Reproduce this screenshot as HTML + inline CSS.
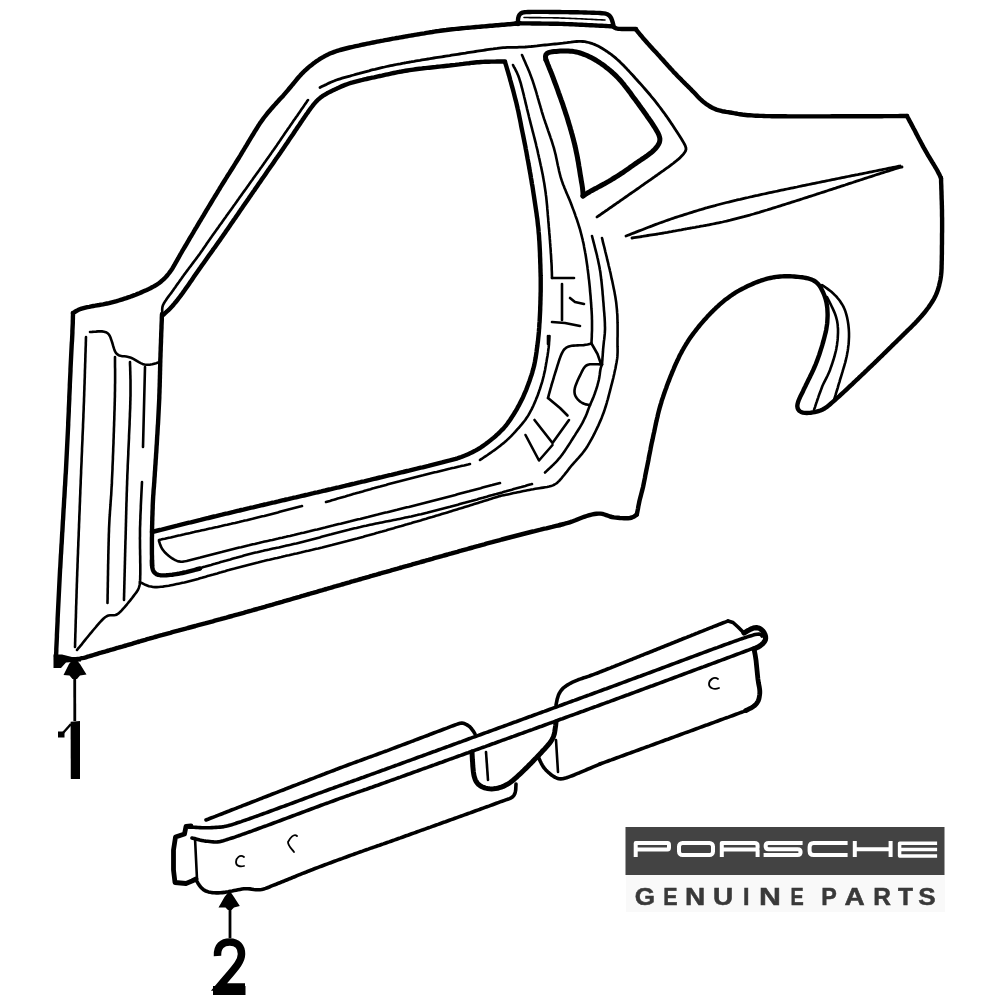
<!DOCTYPE html>
<html><head><meta charset="utf-8"><style>
html,body{margin:0;padding:0;background:#fff;}
body{width:1000px;height:1000px;overflow:hidden;position:relative;font-family:"Liberation Sans",sans-serif;}
svg{position:absolute;left:0;top:0;will-change:transform;}
</style></head><body>
<svg width="1000" height="1000" viewBox="0 0 1000 1000">
<g fill="none" stroke="#000" stroke-linecap="round" stroke-linejoin="round">
<path d="M56.0 657.0 L56.1 655.0 L56.2 653.0 L56.3 651.0 L56.3 649.0 L56.4 647.0 L56.5 645.0 L56.6 643.0 L56.7 641.0 L56.8 639.0 L56.9 637.0 L56.9 635.0 L57.0 633.0 L57.1 631.0 L57.2 629.0 L57.3 627.0 L57.4 625.0 L57.5 623.0 L57.6 621.0 L57.6 619.0 L57.7 617.0 L57.8 615.0 L57.9 613.0 L58.0 611.0 L58.1 609.0 L58.2 607.0 L58.3 605.0 L58.4 603.0 L58.5 601.0 L58.6 599.0 L58.7 597.0 L58.8 595.0 L58.9 593.0 L59.0 591.0 L59.1 589.0 L59.2 587.0 L59.3 585.0 L59.4 583.0 L59.5 581.0 L59.6 579.0 L59.7 577.0 L59.8 575.0 L59.9 573.0 L60.0 571.0 L60.1 569.0 L60.3 567.0 L60.4 565.0 L60.5 563.0 L60.6 561.0 L60.7 559.0 L60.8 557.0 L60.9 555.0 L61.1 553.0 L61.2 551.0 L61.3 549.0 L61.4 547.0 L61.5 545.0 L61.7 543.0 L61.8 541.0 L61.9 539.0 L62.0 537.0 L62.1 535.0 L62.2 533.0 L62.4 531.0 L62.5 529.0 L62.6 527.0 L62.7 525.0 L62.8 523.0 L62.9 521.0 L63.1 519.0 L63.2 517.0 L63.3 515.0 L63.4 513.0 L63.5 511.0 L63.6 509.0 L63.8 507.0 L63.9 505.0 L64.0 503.0 L64.1 501.0 L64.2 499.0 L64.4 497.0 L64.5 495.0 L64.6 493.0 L64.7 491.0 L64.8 489.0 L64.9 487.0 L65.1 485.0 L65.2 483.0 L65.3 481.0 L65.4 479.0 L65.5 477.0 L65.6 475.0 L65.8 473.0 L65.9 471.0 L66.0 469.0 L66.1 467.0 L66.2 465.0 L66.3 463.0 L66.4 461.0 L66.5 459.0 L66.6 457.0 L66.7 455.0 L66.8 453.0 L66.9 451.0 L67.0 449.0 L67.1 447.0 L67.2 445.0 L67.3 443.0 L67.4 441.0 L67.5 439.0 L67.6 437.0 L67.7 435.0 L67.8 433.0 L67.9 431.0 L68.0 429.0 L68.1 427.0 L68.2 425.0 L68.2 423.0 L68.3 421.0 L68.4 419.0 L68.5 417.0 L68.6 415.0 L68.7 413.0 L68.8 411.0 L68.8 409.0 L68.9 407.0 L69.0 405.0 L69.1 403.0 L69.2 401.0 L69.3 399.0 L69.3 397.0 L69.4 395.0 L69.5 393.0 L69.6 391.0 L69.7 389.0 L69.8 387.0 L69.8 385.0 L69.9 383.0 L70.0 381.0 L70.1 379.0 L70.2 377.0 L70.3 375.0 L70.4 373.0 L70.5 371.0 L70.5 369.0 L70.6 367.0 L70.7 365.0 L70.8 363.0 L70.9 361.0 L71.0 359.0 L71.1 357.0 L71.2 355.0 L71.3 353.0 L71.4 351.0 L71.5 349.0 L71.6 347.0 L71.7 345.0 L71.8 343.0 L72.0 341.0 L72.1 339.0 L72.2 337.0 L72.3 335.0 L72.4 333.0 L72.4 331.0 L72.5 329.0 L72.6 327.0 L72.7 325.0 L72.8 323.0 L72.8 321.0 L72.9 319.0 L72.9 317.0 L73.0 315.0 L73.0 313.0 L73.0 313.0" stroke-width="4.4"/>
<path d="M73.0 313.0 L74.6 312.0 L76.3 311.0 L78.0 310.1 L79.8 309.3 L81.6 308.6 L83.5 308.1 L85.4 307.6 L87.4 307.1 L89.3 306.8 L91.3 306.4 L93.3 306.0 L95.2 305.7 L97.2 305.3 L99.2 305.0 L101.2 304.6 L103.1 304.3 L105.1 303.9 L107.0 303.5 L109.0 303.1 L110.9 302.6 L112.9 302.1 L114.8 301.6 L116.7 301.1 L118.7 300.5 L120.6 299.9 L122.5 299.3 L124.4 298.7 L126.3 298.1 L128.2 297.4 L130.1 296.8 L132.0 296.1 L133.8 295.4 L135.7 294.7 L137.6 293.9 L139.4 293.2 L141.3 292.4 L143.1 291.6 L144.9 290.8 L146.8 290.0 L148.6 289.1 L150.4 288.2 L152.1 287.3 L153.9 286.4 L155.6 285.3 L157.3 284.3 L158.9 283.2 L160.5 282.0 L162.0 280.7 L163.5 279.4 L164.9 278.0 L166.3 276.5 L167.6 275.0 L168.8 273.5 L170.0 271.9 L171.2 270.3 L172.3 268.6 L173.3 266.9 L174.3 265.2 L175.3 263.4 L176.3 261.7 L177.3 259.9 L178.3 258.2 L179.2 256.5 L180.2 254.7 L181.2 253.0 L182.2 251.2 L183.2 249.5 L184.2 247.8 L185.3 246.0 L186.3 244.3 L187.3 242.6 L188.3 240.9 L189.3 239.1 L190.3 237.4 L191.4 235.7 L192.4 234.0 L193.4 232.3 L194.4 230.5 L195.4 228.8 L196.5 227.1 L197.5 225.4 L198.5 223.7 L199.5 221.9 L200.6 220.2 L201.6 218.5 L202.6 216.8 L203.7 215.1 L204.7 213.3 L205.7 211.6 L206.7 209.9 L207.8 208.2 L208.8 206.5 L209.8 204.8 L210.9 203.0 L211.9 201.3 L212.9 199.6 L214.0 197.9 L215.0 196.2 L216.1 194.5 L217.1 192.8 L218.1 191.1 L219.2 189.4 L220.2 187.6 L221.3 185.9 L222.3 184.2 L223.4 182.5 L224.5 180.8 L225.5 179.1 L226.6 177.4 L227.6 175.7 L228.7 174.1 L229.8 172.4 L230.8 170.7 L231.9 169.0 L233.0 167.3 L234.0 165.6 L235.1 163.9 L236.1 162.2 L237.2 160.5 L238.3 158.8 L239.3 157.1 L240.4 155.4 L241.4 153.7 L242.4 151.9 L243.5 150.2 L244.5 148.5 L245.5 146.8 L246.6 145.1 L247.6 143.4 L248.6 141.7 L249.7 139.9 L250.7 138.2 L251.7 136.5 L252.8 134.8 L253.8 133.1 L254.8 131.4 L255.9 129.7 L257.0 128.0 L258.0 126.3 L259.1 124.6 L260.2 122.9 L261.4 121.3 L262.5 119.7 L263.7 118.0 L264.9 116.5 L266.2 114.9 L267.4 113.3 L268.7 111.8 L270.0 110.3 L271.3 108.7 L272.6 107.2 L273.9 105.7 L275.3 104.3 L276.6 102.8 L278.0 101.3 L279.3 99.8 L280.7 98.3 L282.0 96.9 L283.4 95.4 L284.7 93.9 L286.0 92.4 L287.3 90.9 L288.6 89.3 L289.9 87.8 L291.2 86.3 L292.4 84.7 L293.7 83.2 L295.0 81.6 L296.2 80.1 L297.5 78.5 L298.8 77.0 L300.2 75.5 L301.5 74.0 L302.9 72.6 L304.3 71.2 L305.8 69.8 L307.3 68.5 L308.8 67.2 L310.3 65.9 L311.9 64.7 L313.5 63.4 L315.1 62.3 L316.7 61.1 L318.4 60.0 L320.0 58.9 L321.7 57.9 L323.5 56.9 L325.2 55.9 L327.0 55.0 L328.8 54.1 L330.6 53.3 L332.5 52.6 L334.3 51.9 L336.2 51.2 L338.1 50.6 L340.0 50.0 L342.0 49.5 L343.9 49.0 L345.8 48.5 L347.8 48.0 L349.7 47.5 L351.7 47.1 L353.6 46.7 L355.6 46.2 L357.5 45.8 L359.5 45.4 L361.4 44.9 L363.4 44.5 L365.4 44.1 L367.3 43.7 L369.3 43.3 L371.2 42.9 L373.2 42.5 L375.2 42.1 L377.1 41.7 L379.1 41.3 L381.1 40.9 L383.0 40.6 L385.0 40.2 L387.0 39.8 L388.9 39.5 L390.9 39.1 L392.9 38.7 L394.8 38.4 L396.8 38.0 L398.8 37.7 L400.8 37.3 L402.7 37.0 L404.7 36.6 L406.7 36.3 L408.6 35.9 L410.6 35.6 L412.6 35.3 L414.6 34.9 L416.5 34.6 L418.5 34.3 L420.5 33.9 L422.5 33.6 L424.4 33.3 L426.4 32.9 L428.4 32.6 L430.4 32.3 L432.3 32.0 L434.3 31.6 L436.3 31.3 L438.3 31.1 L440.3 30.8 L442.2 30.5 L444.2 30.2 L446.2 30.0 L448.2 29.7 L450.2 29.5 L452.2 29.3 L454.2 29.1 L456.2 28.9 L458.2 28.7 L460.2 28.5 L462.1 28.3 L464.1 28.1 L466.1 27.9 L468.1 27.7 L470.1 27.6 L472.1 27.4 L474.1 27.2 L476.1 27.0 L478.1 26.9 L480.1 26.7 L482.1 26.5 L484.1 26.4 L486.1 26.2 L488.1 26.0 L490.1 25.8 L492.1 25.7 L494.1 25.5 L496.1 25.3 L498.0 25.2 L500.0 25.0 L502.0 24.8 L504.0 24.7 L506.0 24.5 L508.0 24.3 L510.0 24.2 L512.0 24.0 L514.0 23.8 L516.0 23.7 L518.0 23.5 L518.0 23.5" stroke-width="4.4"/>
<path d="M518.0 24.0 L518.0 22.0 L518.0 20.0 L518.2 18.1 L518.7 16.3 L519.5 14.7 L520.7 13.5 L522.2 12.7 L524.0 12.3 L525.9 12.1 L527.9 12.0 L529.9 12.0 L531.9 11.9 L533.9 11.9 L535.9 11.9 L537.9 11.9 L539.9 11.9 L541.9 11.9 L543.9 11.9 L545.9 11.9 L547.9 11.9 L549.9 12.0 L551.9 12.0 L553.9 12.0 L555.9 12.0 L557.9 12.0 L559.9 12.0 L561.9 12.1 L563.9 12.1 L565.9 12.1 L567.9 12.1 L569.9 12.2 L571.9 12.2 L573.9 12.2 L575.9 12.3 L577.9 12.3 L579.9 12.4 L581.9 12.4 L583.9 12.5 L585.9 12.5 L587.9 12.6 L589.9 12.6 L591.9 12.7 L593.9 12.8 L595.9 12.9 L597.9 12.9 L599.9 13.0 L601.9 13.2 L603.9 13.4 L605.8 13.7 L607.5 14.3 L609.1 15.3 L610.3 16.7 L611.3 18.4 L612.0 20.2 L612.6 22.1 L613.1 24.0 L613.5 26.0 L613.5 26.0" stroke-width="4.4"/>
<path d="M516.0 23.3 L518.0 23.3 L520.0 23.3 L522.0 23.4 L524.0 23.4 L526.0 23.4 L528.0 23.4 L530.0 23.4 L532.0 23.5 L534.0 23.5 L536.0 23.5 L538.0 23.5 L540.0 23.5 L542.0 23.6 L544.0 23.6 L546.0 23.6 L548.0 23.6 L550.0 23.7 L552.0 23.7 L554.0 23.8 L556.0 23.8 L558.0 23.8 L560.0 23.9 L562.0 23.9 L564.0 24.0 L566.0 24.1 L568.0 24.1 L570.0 24.2 L572.0 24.3 L574.0 24.4 L576.0 24.5 L578.0 24.6 L580.0 24.7 L582.0 24.8 L584.0 24.9 L586.0 25.0 L588.0 25.1 L590.0 25.2 L592.0 25.3 L594.0 25.4 L596.0 25.5 L598.0 25.6 L600.0 25.7 L602.0 25.8 L604.0 25.9 L606.0 26.0 L608.0 26.1 L610.0 26.2 L612.0 26.3 L613.0 26.4" stroke-width="4.4"/>
<path d="M524.0 17.5 L526.0 17.5 L528.0 17.5 L530.0 17.6 L532.0 17.6 L534.0 17.6 L536.0 17.6 L538.0 17.6 L540.0 17.6 L542.0 17.7 L544.0 17.7 L546.0 17.7 L548.0 17.7 L550.0 17.8 L552.0 17.8 L554.0 17.9 L556.0 17.9 L558.0 17.9 L560.0 18.0 L562.0 18.1 L564.0 18.1 L566.0 18.2 L568.0 18.3 L570.0 18.4 L572.0 18.5 L574.0 18.5 L576.0 18.6 L578.0 18.7 L580.0 18.8 L582.0 18.9 L584.0 19.0 L586.0 19.1 L588.0 19.2 L590.0 19.3 L592.0 19.4 L594.0 19.5 L596.0 19.6 L598.0 19.7 L600.0 19.8 L602.0 19.9 L604.0 20.0 L605.0 20.0" stroke-width="1.6"/>
<path d="M613.0 26.4 L614.4 27.5 L616.0 28.3 L617.8 28.7 L619.8 28.9 L621.8 29.0 L623.8 29.0 L625.8 29.0 L627.9 29.0 L629.9 29.0 L631.9 29.0 L634.0 29.0 L636.0 29.0 L636.0 29.0" stroke-width="4.4"/>
<path d="M636.0 29.5 L637.3 31.1 L638.5 32.6 L639.8 34.2 L641.1 35.7 L642.3 37.2 L643.6 38.8 L645.0 40.3 L646.3 41.8 L647.6 43.3 L649.0 44.7 L650.3 46.2 L651.7 47.7 L653.0 49.2 L654.4 50.7 L655.7 52.1 L657.1 53.6 L658.4 55.1 L659.8 56.6 L661.1 58.1 L662.5 59.5 L663.8 61.0 L665.1 62.5 L666.5 64.0 L667.8 65.5 L669.2 67.0 L670.5 68.5 L671.9 69.9 L673.2 71.4 L674.6 72.9 L676.0 74.3 L677.3 75.8 L678.7 77.2 L680.2 78.6 L681.6 80.1 L683.0 81.5 L684.4 82.9 L685.8 84.3 L687.3 85.7 L688.7 87.1 L690.1 88.5 L691.5 89.9 L692.9 91.4 L694.3 92.8 L695.7 94.3 L697.0 95.7 L698.4 97.2 L699.8 98.6 L701.3 100.0 L702.8 101.3 L704.3 102.6 L705.9 103.8 L707.6 104.9 L709.2 106.0 L710.9 107.0 L712.7 108.0 L714.5 108.8 L716.4 109.6 L718.2 110.2 L720.2 110.7 L722.1 111.2 L724.1 111.5 L726.1 111.9 L728.0 112.2 L730.0 112.5 L732.0 112.8 L734.0 113.2 L735.9 113.5 L737.9 113.9 L739.9 114.2 L741.9 114.5 L743.8 114.8 L745.8 115.0 L747.8 115.2 L749.8 115.3 L751.8 115.4 L753.8 115.6 L755.8 115.7 L757.8 115.8 L759.8 115.9 L761.8 115.9 L763.8 116.0 L765.8 116.1 L767.8 116.1 L769.8 116.1 L771.8 116.2 L773.8 116.2 L775.8 116.2 L777.8 116.3 L779.8 116.3 L781.8 116.3 L783.8 116.3 L785.8 116.3 L787.9 116.4 L789.9 116.4 L791.9 116.4 L793.9 116.4 L795.9 116.4 L797.9 116.4 L799.9 116.4 L801.9 116.4 L803.9 116.4 L805.9 116.4 L807.9 116.4 L809.9 116.4 L811.9 116.4 L813.9 116.4 L815.9 116.4 L817.9 116.4 L819.9 116.4 L821.9 116.4 L823.9 116.4 L825.9 116.4 L827.9 116.4 L829.9 116.4 L831.9 116.3 L833.9 116.3 L835.9 116.3 L837.9 116.3 L839.9 116.3 L841.9 116.3 L843.9 116.3 L845.9 116.3 L847.9 116.3 L849.9 116.3 L851.9 116.3 L853.9 116.3 L855.9 116.3 L857.9 116.3 L859.9 116.3 L861.9 116.3 L863.9 116.3 L865.9 116.2 L868.0 116.2 L870.0 116.2 L872.0 116.2 L874.0 116.2 L876.0 116.2 L878.0 116.2 L880.0 116.2 L882.0 116.2 L884.0 116.1 L886.0 116.1 L888.0 116.1 L890.0 116.1 L892.0 116.1 L894.0 116.1 L896.0 116.1 L898.0 116.1 L900.0 116.0 L902.0 116.0 L904.0 116.0 L906.0 116.0 L907.0 116.0" stroke-width="4.4"/>
<path d="M907.0 116.0 L907.9 117.8 L908.9 119.6 L909.8 121.4 L910.8 123.1 L911.7 124.9 L912.7 126.7 L913.6 128.5 L914.6 130.3 L915.5 132.1 L916.4 133.9 L917.4 135.7 L918.3 137.5 L919.2 139.2 L920.2 141.0 L921.1 142.8 L922.1 144.6 L923.0 146.4 L924.0 148.2 L925.0 149.9 L926.0 151.7 L927.0 153.4 L928.0 155.2 L929.1 156.9 L930.1 158.6 L931.2 160.4 L932.2 162.1 L933.3 163.8 L934.3 165.5 L935.4 167.3 L936.4 169.0 L937.4 170.8 L938.3 172.6 L939.3 174.4 L940.1 176.2 L941.0 178.0 L941.0 178.0" stroke-width="4.4"/>
<path d="M941.0 178.0 L941.1 180.0 L941.1 182.0 L941.2 184.0 L941.3 186.0 L941.3 188.0 L941.4 190.0 L941.5 192.0 L941.5 194.0 L941.6 196.0 L941.6 198.0 L941.7 200.0 L941.8 202.0 L941.8 204.0 L941.9 206.0 L941.9 208.0 L942.0 210.0 L942.0 212.0 L942.0 214.0 L942.0 216.0 L942.1 218.0 L942.1 220.0 L942.1 222.0 L942.1 224.0 L942.1 226.0 L942.1 228.0 L942.1 230.0 L942.1 232.0 L942.0 234.0 L942.0 236.0 L942.0 238.0 L942.0 240.0 L942.0 242.0 L942.0 244.0 L941.9 246.0 L941.9 248.0 L941.9 250.0 L941.9 252.0 L941.9 254.0 L941.8 256.0 L941.8 258.0 L941.8 260.0 L941.7 262.0 L941.7 264.0 L941.6 266.0 L941.6 268.0 L941.5 270.0 L941.4 272.0 L941.2 274.0 L941.0 276.0 L940.7 278.0 L940.4 279.9 L940.0 281.9 L939.5 283.8 L939.1 285.8 L938.5 287.7 L938.0 289.6 L937.3 291.5 L936.6 293.4 L935.8 295.2 L934.9 297.0 L934.0 298.8 L933.0 300.5 L931.9 302.2 L930.8 303.9 L929.7 305.5 L928.6 307.2 L927.4 308.8 L926.2 310.4 L925.0 312.0 L923.7 313.5 L922.4 315.0 L921.1 316.6 L919.8 318.0 L918.4 319.5 L917.1 321.0 L915.7 322.4 L914.3 323.9 L912.9 325.3 L911.5 326.7 L910.1 328.1 L908.6 329.5 L907.2 330.9 L905.8 332.3 L904.3 333.7 L902.9 335.1 L901.5 336.5 L900.1 337.9 L898.6 339.3 L897.2 340.7 L895.8 342.1 L894.3 343.5 L892.9 344.9 L891.5 346.3 L890.1 347.7 L888.6 349.1 L887.2 350.5 L885.8 351.9 L884.3 353.3 L882.9 354.7 L881.5 356.1 L880.0 357.5 L878.6 358.9 L877.2 360.3 L875.7 361.7 L874.3 363.1 L872.8 364.5 L871.4 365.9 L870.0 367.2 L868.5 368.6 L867.1 370.0 L865.6 371.4 L864.2 372.8 L862.7 374.2 L861.3 375.5 L859.8 376.9 L858.4 378.3 L856.9 379.7 L855.5 381.0 L854.0 382.4 L852.6 383.8 L851.1 385.2 L849.6 386.5 L848.2 387.9 L846.7 389.3 L845.3 390.6 L843.8 392.0 L842.3 393.4 L840.9 394.7 L839.4 396.1 L837.9 397.4 L836.4 398.7 L834.9 400.1 L833.4 401.4 L831.9 402.7 L830.4 404.0 L828.9 405.3 L827.3 406.6 L825.7 407.7 L824.0 408.8 L822.2 409.7 L820.4 410.5 L818.5 411.1 L816.6 411.7 L814.7 412.1 L812.7 412.4 L810.7 412.7 L808.7 412.9 L806.8 413.0 L804.8 412.9 L802.9 412.6 L801.1 412.0 L799.5 411.0 L798.3 409.6 L797.6 408.0 L797.3 406.1 L797.5 404.3 L798.0 402.4 L798.6 400.5 L799.4 398.6 L800.2 396.8 L801.1 395.0 L802.0 393.2 L802.9 391.4 L803.7 389.6 L804.6 387.8 L805.5 386.0 L806.3 384.2 L807.2 382.4 L808.1 380.6 L809.0 378.8 L809.9 377.0 L810.7 375.2 L811.6 373.4 L812.5 371.6 L813.3 369.8 L814.1 368.0 L814.9 366.1 L815.7 364.3 L816.4 362.4 L817.1 360.6 L817.8 358.7 L818.5 356.8 L819.2 354.9 L819.8 353.0 L820.4 351.1 L821.0 349.2 L821.6 347.3 L822.2 345.4 L822.7 343.5 L823.3 341.5 L823.8 339.6 L824.3 337.7 L824.8 335.7 L825.3 333.8 L825.8 331.9 L826.2 329.9 L826.5 327.9 L826.8 326.0 L827.1 324.0 L827.3 322.0 L827.4 320.0 L827.5 318.0 L827.6 316.0 L827.6 314.0 L827.5 312.0 L827.4 310.0 L827.3 308.0 L827.0 306.0 L826.7 304.0 L826.4 302.1 L825.9 300.1 L825.3 298.2 L824.7 296.3 L824.0 294.5 L823.2 292.6 L822.3 290.8 L821.4 289.0 L820.5 287.3 L819.4 285.6 L818.2 284.1 L816.8 282.7 L815.3 281.5 L813.6 280.5 L811.8 279.6 L809.9 279.0 L808.0 278.4 L806.0 278.0 L804.1 277.6 L802.1 277.3 L800.1 277.1 L798.1 276.9 L796.1 276.7 L794.1 276.5 L792.1 276.4 L790.1 276.3 L788.1 276.3 L786.1 276.3 L784.1 276.3 L782.1 276.4 L780.2 276.5 L778.2 276.7 L776.2 276.9 L774.2 277.2 L772.2 277.6 L770.3 278.0 L768.3 278.4 L766.4 278.9 L764.5 279.5 L762.6 280.1 L760.7 280.7 L758.8 281.4 L756.9 282.1 L755.1 282.8 L753.2 283.6 L751.4 284.4 L749.6 285.2 L747.7 286.1 L745.9 287.0 L744.2 287.9 L742.4 288.8 L740.6 289.7 L738.9 290.7 L737.1 291.7 L735.4 292.7 L733.7 293.8 L732.1 294.9 L730.4 296.0 L728.8 297.2 L727.2 298.4 L725.6 299.6 L724.0 300.8 L722.5 302.1 L721.0 303.4 L719.5 304.7 L718.0 306.1 L716.5 307.4 L715.1 308.8 L713.6 310.2 L712.2 311.6 L710.8 313.0 L709.4 314.5 L708.0 315.9 L706.7 317.4 L705.3 318.9 L704.0 320.3 L702.7 321.9 L701.4 323.4 L700.1 324.9 L698.8 326.5 L697.6 328.0 L696.3 329.6 L695.1 331.2 L693.9 332.8 L692.7 334.4 L691.5 336.0 L690.4 337.6 L689.2 339.3 L688.1 340.9 L687.1 342.6 L686.0 344.3 L685.0 346.0 L683.9 347.8 L683.0 349.5 L682.0 351.2 L681.1 353.0 L680.1 354.8 L679.2 356.6 L678.4 358.4 L677.5 360.2 L676.7 362.0 L675.8 363.8 L675.0 365.7 L674.2 367.5 L673.5 369.3 L672.7 371.2 L671.9 373.0 L671.2 374.9 L670.4 376.7 L669.7 378.6 L669.0 380.5 L668.2 382.3 L667.5 384.2 L666.8 386.1 L666.2 388.0 L665.5 389.8 L664.8 391.7 L664.2 393.6 L663.5 395.5 L662.9 397.4 L662.2 399.3 L661.6 401.2 L661.1 403.1 L660.5 405.0 L659.9 407.0 L659.4 408.9 L658.9 410.8 L658.4 412.8 L657.9 414.7 L657.5 416.7 L657.0 418.6 L656.6 420.6 L656.1 422.5 L655.7 424.5 L655.3 426.4 L654.9 428.4 L654.5 430.3 L654.1 432.3 L653.6 434.3 L653.2 436.2 L652.8 438.2 L652.4 440.1 L651.9 442.1 L651.5 444.0 L651.1 446.0 L650.7 448.0 L650.4 449.9 L650.0 451.9 L649.6 453.8 L649.2 455.8 L648.8 457.8 L648.5 459.7 L648.1 461.7 L647.7 463.7 L647.3 465.6 L646.9 467.6 L646.5 469.5 L646.1 471.5 L645.7 473.5 L645.3 475.4 L645.0 477.4 L644.6 479.4 L644.2 481.3 L643.8 483.3 L643.4 485.2 L643.0 487.2 L642.5 489.1 L642.0 491.1 L641.5 493.0 L641.0 495.0 L640.5 496.9 L640.0 498.8 L639.5 500.8 L639.1 502.7 L638.7 504.7 L638.3 506.6 L638.0 508.6 L637.6 510.6 L637.2 512.5 L636.8 514.5 L636.8 514.5" stroke-width="4.4"/>
<path d="M636.8 514.5 L635.3 515.7 L633.6 516.8 L631.9 517.5 L630.0 518.0 L628.0 518.2 L626.0 518.2 L624.0 518.2 L621.9 518.1 L619.9 518.0 L617.9 517.8 L615.9 517.6 L613.9 517.4 L612.0 517.0 L610.0 516.5 L608.1 515.8 L606.2 515.1 L604.4 514.5 L602.4 513.9 L600.5 513.6 L598.5 513.6 L596.5 513.7 L594.5 514.0 L592.5 514.4 L590.6 514.8 L588.6 515.4 L586.7 516.0 L584.8 516.6 L582.9 517.3 L581.0 518.0 L579.1 518.7 L577.3 519.5 L575.4 520.3 L573.5 521.0 L571.6 521.7 L569.7 522.3 L567.8 522.9 L565.8 523.4 L563.9 524.0 L561.9 524.5 L560.0 525.0 L560.0 525.0" stroke-width="4.4"/>
<path d="M560.0 525.0 L558.1 525.5 L556.1 525.9 L554.2 526.4 L552.2 526.9 L550.3 527.3 L548.3 527.8 L546.4 528.3 L544.4 528.7 L542.5 529.2 L540.5 529.7 L538.6 530.1 L536.6 530.6 L534.7 531.1 L532.8 531.5 L530.8 532.0 L528.9 532.5 L526.9 533.0 L525.0 533.5 L523.0 534.0 L521.1 534.5 L519.2 535.0 L517.2 535.5 L515.3 536.0 L513.4 536.5 L511.4 537.0 L509.5 537.5 L507.5 538.0 L505.6 538.5 L503.7 539.0 L501.7 539.5 L499.8 540.1 L497.9 540.6 L495.9 541.1 L494.0 541.6 L492.1 542.2 L490.2 542.7 L488.2 543.2 L486.3 543.7 L484.4 544.3 L482.4 544.8 L480.5 545.3 L478.6 545.9 L476.6 546.4 L474.7 546.9 L472.8 547.5 L470.9 548.0 L468.9 548.5 L467.0 549.1 L465.1 549.6 L463.1 550.1 L461.2 550.7 L459.3 551.2 L457.4 551.8 L455.4 552.3 L453.5 552.8 L451.6 553.4 L449.7 553.9 L447.7 554.5 L445.8 555.0 L443.9 555.5 L441.9 556.1 L440.0 556.6 L438.1 557.2 L436.2 557.7 L434.2 558.2 L432.3 558.8 L430.4 559.3 L428.5 559.9 L426.5 560.4 L424.6 561.0 L422.7 561.5 L420.8 562.0 L418.8 562.6 L416.9 563.1 L415.0 563.7 L413.0 564.2 L411.1 564.8 L409.2 565.3 L407.3 565.9 L405.3 566.4 L403.4 566.9 L401.5 567.5 L399.6 568.0 L397.6 568.6 L395.7 569.1 L393.8 569.7 L391.9 570.2 L389.9 570.8 L388.0 571.3 L386.1 571.9 L384.2 572.4 L382.2 572.9 L380.3 573.5 L378.4 574.0 L376.5 574.6 L374.5 575.1 L372.6 575.7 L370.7 576.2 L368.8 576.8 L366.8 577.3 L364.9 577.9 L363.0 578.4 L361.1 579.0 L359.1 579.5 L357.2 580.1 L355.3 580.6 L353.4 581.2 L351.4 581.7 L349.5 582.3 L347.6 582.8 L345.7 583.4 L343.8 584.0 L341.8 584.5 L339.9 585.1 L338.0 585.6 L336.1 586.2 L334.1 586.7 L332.2 587.3 L330.3 587.9 L328.4 588.4 L326.5 589.0 L324.5 589.5 L322.6 590.1 L320.7 590.6 L318.8 591.2 L316.8 591.8 L314.9 592.3 L313.0 592.9 L311.1 593.4 L309.2 594.0 L307.2 594.5 L305.3 595.1 L303.4 595.7 L301.5 596.2 L299.5 596.8 L297.6 597.3 L295.7 597.9 L293.8 598.4 L291.9 599.0 L289.9 599.6 L288.0 600.1 L286.1 600.7 L284.2 601.2 L282.2 601.8 L280.3 602.3 L278.4 602.9 L276.5 603.4 L274.5 604.0 L272.6 604.6 L270.7 605.1 L268.8 605.7 L266.8 606.2 L264.9 606.8 L263.0 607.3 L261.1 607.9 L259.2 608.4 L257.2 609.0 L255.3 609.5 L253.4 610.0 L251.4 610.6 L249.5 611.1 L247.6 611.7 L245.7 612.2 L243.7 612.8 L241.8 613.3 L239.9 613.8 L238.0 614.4 L236.0 614.9 L234.1 615.4 L232.2 616.0 L230.2 616.5 L228.3 617.0 L226.4 617.6 L224.5 618.1 L222.5 618.6 L220.6 619.2 L218.7 619.7 L216.7 620.2 L214.8 620.7 L212.9 621.3 L210.9 621.8 L209.0 622.3 L207.1 622.8 L205.1 623.4 L203.2 623.9 L201.3 624.4 L199.3 624.9 L197.4 625.4 L195.5 626.0 L193.5 626.5 L191.6 627.0 L189.7 627.5 L187.8 628.0 L185.8 628.6 L183.9 629.1 L182.0 629.6 L180.0 630.1 L178.1 630.7 L176.2 631.2 L174.2 631.7 L172.3 632.2 L170.4 632.8 L168.4 633.3 L166.5 633.8 L164.6 634.3 L162.6 634.9 L160.7 635.4 L158.8 635.9 L156.9 636.5 L154.9 637.0 L153.0 637.6 L151.1 638.1 L149.2 638.7 L147.2 639.2 L145.3 639.8 L143.4 640.3 L141.5 640.9 L139.5 641.5 L137.6 642.0 L135.7 642.6 L133.8 643.2 L131.9 643.8 L130.0 644.3 L128.0 644.9 L126.1 645.5 L124.2 646.0 L122.3 646.6 L120.4 647.1 L118.4 647.7 L116.5 648.2 L114.6 648.8 L112.7 649.4 L110.7 649.9 L108.8 650.5 L106.9 651.0 L105.0 651.6 L103.0 652.1 L101.1 652.7 L99.2 653.2 L97.3 653.8 L95.4 654.4 L93.5 655.0 L91.5 655.6 L89.6 656.2 L87.7 656.7 L85.8 657.3 L83.9 657.8 L81.9 658.2 L79.9 658.6 L78.0 658.9 L76.0 659.2 L74.0 659.3 L72.0 659.4 L70.0 659.5 L68.0 659.5 L66.0 659.4 L64.0 659.4 L62.0 659.3 L60.0 659.2 L58.0 659.1 L56.0 659.0 L56.0 659.0" stroke-width="4.4"/>
<path d="M162.0 314.0 L161.9 316.0 L161.8 318.0 L161.8 320.0 L161.7 322.0 L161.6 324.0 L161.5 326.0 L161.5 328.0 L161.4 330.0 L161.3 332.0 L161.2 334.0 L161.2 336.0 L161.1 338.0 L161.0 340.0 L161.0 342.0 L160.9 344.0 L160.8 346.0 L160.7 348.0 L160.7 350.0 L160.6 352.0 L160.5 354.0 L160.5 356.0 L160.4 358.0 L160.3 360.0 L160.3 362.0 L160.2 364.0 L160.2 366.0 L160.1 368.0 L160.1 370.0 L160.0 372.0 L160.0 374.0 L159.9 376.0 L159.9 378.0 L159.8 380.0 L159.8 382.0 L159.7 384.0 L159.7 386.0 L159.6 388.0 L159.5 390.0 L159.5 392.0 L159.4 394.0 L159.3 396.0 L159.3 398.0 L159.2 400.0 L159.1 402.0 L159.0 404.0 L158.9 406.0 L158.8 408.0 L158.7 410.0 L158.6 412.0 L158.5 414.0 L158.4 416.0 L158.3 418.0 L158.2 420.0 L158.1 422.0 L158.0 424.0 L157.8 426.0 L157.7 428.0 L157.6 430.0 L157.5 432.0 L157.4 434.0 L157.2 436.0 L157.1 438.0 L157.0 440.0 L156.9 442.0 L156.8 444.0 L156.6 446.0 L156.5 448.0 L156.4 450.0 L156.3 452.0 L156.1 454.0 L156.0 456.0 L155.9 458.0 L155.7 460.0 L155.6 462.0 L155.5 464.0 L155.3 466.0 L155.2 468.0 L155.1 470.0 L154.9 472.0 L154.8 474.0 L154.7 476.0 L154.5 478.0 L154.4 480.0 L154.3 482.0 L154.1 484.0 L154.0 486.0 L153.8 488.0 L153.6 490.0 L153.5 492.0 L153.4 494.0 L153.2 496.0 L153.1 498.0 L153.0 499.9 L152.9 501.9 L152.8 503.9 L152.7 506.0 L152.7 508.0 L152.6 510.0 L152.5 512.0 L152.5 514.0 L152.4 516.0 L152.3 518.0 L152.3 520.0 L152.2 522.0 L152.2 524.0 L152.1 526.0 L152.1 528.0 L152.0 530.0 L152.0 532.0 L152.0 534.0 L152.0 536.0 L151.9 538.0 L151.9 540.0 L151.9 542.0 L151.9 544.0 L151.9 546.0 L151.9 548.0 L151.9 550.0 L151.9 552.0 L151.9 554.0 L152.0 556.0 L152.0 558.0 L152.0 560.0 L152.0 562.0 L152.0 564.0 L152.0 566.0 L152.0 566.0" stroke-width="4.4"/>
<path d="M152.0 532.0 L153.9 531.5 L155.9 531.0 L157.8 530.5 L159.8 530.0 L161.7 529.6 L163.7 529.1 L165.6 528.6 L167.5 528.1 L169.5 527.6 L171.4 527.1 L173.4 526.6 L175.3 526.1 L177.2 525.7 L179.2 525.2 L181.1 524.7 L183.1 524.2 L185.0 523.7 L187.0 523.2 L188.9 522.7 L190.8 522.3 L192.8 521.8 L194.7 521.3 L196.7 520.8 L198.6 520.3 L200.6 519.9 L202.5 519.4 L204.5 518.9 L206.4 518.4 L208.3 518.0 L210.3 517.5 L212.2 517.0 L214.2 516.5 L216.1 516.1 L218.1 515.6 L220.0 515.1 L222.0 514.7 L223.9 514.2 L225.9 513.7 L227.8 513.3 L229.8 512.8 L231.7 512.3 L233.6 511.9 L235.6 511.4 L237.5 510.9 L239.5 510.5 L241.4 510.0 L243.4 509.6 L245.3 509.1 L247.3 508.6 L249.2 508.2 L251.2 507.7 L253.1 507.3 L255.1 506.8 L257.0 506.3 L259.0 505.9 L260.9 505.4 L262.9 505.0 L264.8 504.5 L266.8 504.1 L268.7 503.6 L270.7 503.2 L272.6 502.7 L274.6 502.3 L276.5 501.8 L278.5 501.4 L280.4 500.9 L282.4 500.4 L284.3 500.0 L286.3 499.5 L288.2 499.1 L290.2 498.6 L292.1 498.2 L294.1 497.7 L296.0 497.3 L298.0 496.8 L299.9 496.4 L301.9 495.9 L303.8 495.5 L305.8 495.0 L307.7 494.6 L309.7 494.1 L311.6 493.6 L313.6 493.2 L315.5 492.7 L317.5 492.3 L319.4 491.8 L321.4 491.4 L323.3 490.9 L325.3 490.5 L327.2 490.0 L329.2 489.5 L331.1 489.1 L333.1 488.6 L335.0 488.2 L337.0 487.7 L338.9 487.3 L340.9 486.8 L342.8 486.3 L344.8 485.9 L346.7 485.4 L348.7 485.0 L350.6 484.5 L352.6 484.0 L354.5 483.6 L356.5 483.1 L358.4 482.6 L360.4 482.2 L362.3 481.7 L364.3 481.3 L366.2 480.8 L368.1 480.3 L370.1 479.9 L372.0 479.4 L374.0 478.9 L375.9 478.5 L377.9 478.0 L379.8 477.5 L381.8 477.1 L383.7 476.6 L385.7 476.1 L387.6 475.7 L389.6 475.2 L391.5 474.8 L393.5 474.3 L395.4 473.8 L397.4 473.4 L399.3 472.9 L401.3 472.4 L403.2 472.0 L405.1 471.5 L407.1 471.0 L409.0 470.6 L411.0 470.1 L412.9 469.6 L414.9 469.1 L416.8 468.7 L418.8 468.2 L420.7 467.7 L422.7 467.3 L424.6 466.8 L426.6 466.3 L428.5 465.9 L430.4 465.4 L432.4 464.9 L434.3 464.4 L436.3 463.9 L438.2 463.4 L440.2 462.9 L442.1 462.4 L444.0 461.8 L445.9 461.3 L447.9 460.8 L449.8 460.4 L451.8 459.9 L453.7 459.4 L455.6 458.9 L457.5 458.3 L459.4 457.6 L461.3 457.0 L463.2 456.2 L465.0 455.5 L466.9 454.7 L468.7 453.9 L470.5 453.1 L472.3 452.2 L474.1 451.3 L475.9 450.4 L477.6 449.4 L479.3 448.3 L481.0 447.3 L482.7 446.1 L484.3 445.0 L486.0 443.8 L487.6 442.6 L489.1 441.4 L490.7 440.1 L492.2 438.9 L493.8 437.6 L495.3 436.3 L496.8 434.9 L498.3 433.6 L499.7 432.2 L501.1 430.8 L502.5 429.4 L503.9 427.9 L505.2 426.4 L506.5 424.8 L507.7 423.2 L508.8 421.6 L510.0 420.0 L511.1 418.3 L512.2 416.6 L513.3 415.0 L514.3 413.2 L515.4 411.5 L516.4 409.8 L517.4 408.1 L518.3 406.3 L519.3 404.6 L520.2 402.8 L521.1 401.0 L522.0 399.2 L522.9 397.4 L523.7 395.6 L524.5 393.7 L525.3 391.9 L526.1 390.1 L526.8 388.2 L527.5 386.3 L528.2 384.5 L528.9 382.6 L529.6 380.7 L530.2 378.8 L530.8 376.9 L531.5 375.0 L532.1 373.1 L532.6 371.2 L533.2 369.2 L533.7 367.3 L534.2 365.4 L534.6 363.4 L535.0 361.4 L535.3 359.5 L535.7 357.5 L536.0 355.5 L536.3 353.5 L536.6 351.5 L536.8 349.6 L537.1 347.6 L537.4 345.6 L537.6 343.6 L537.9 341.6 L538.1 339.6 L538.3 337.6 L538.5 335.7 L538.7 333.7 L538.9 331.7 L539.0 329.7 L539.2 327.7 L539.3 325.7 L539.4 323.7 L539.6 321.7 L539.7 319.7 L539.8 317.7 L539.9 315.7 L540.0 313.7 L540.1 311.7 L540.2 309.7 L540.2 307.7 L540.3 305.7 L540.4 303.7 L540.4 301.7 L540.5 299.7 L540.5 297.7 L540.6 295.7 L540.6 293.7 L540.7 291.7 L540.7 289.7 L540.7 287.7 L540.7 285.7 L540.7 283.7 L540.7 281.7 L540.7 279.7 L540.7 277.7 L540.6 275.7 L540.6 273.7 L540.5 271.6 L540.5 269.6 L540.4 267.6 L540.4 265.6 L540.3 263.6 L540.2 261.6 L540.2 259.6 L540.1 257.6 L540.0 255.6 L540.0 253.6 L539.9 251.6 L539.8 249.6 L539.7 247.6 L539.6 245.6 L539.5 243.6 L539.4 241.6 L539.2 239.6 L539.1 237.6 L539.0 235.6 L538.8 233.7 L538.6 231.7 L538.5 229.7 L538.3 227.7 L538.0 225.7 L537.8 223.7 L537.6 221.7 L537.4 219.7 L537.1 217.7 L536.8 215.7 L536.6 213.8 L536.3 211.8 L536.0 209.8 L535.7 207.8 L535.4 205.8 L535.1 203.9 L534.8 201.9 L534.5 199.9 L534.2 197.9 L533.9 195.9 L533.6 194.0 L533.3 192.0 L533.0 190.0 L532.7 188.0 L532.4 186.0 L532.0 184.1 L531.7 182.1 L531.4 180.1 L531.0 178.1 L530.7 176.2 L530.4 174.2 L530.0 172.2 L529.7 170.3 L529.3 168.3 L529.0 166.3 L528.6 164.3 L528.3 162.4 L527.9 160.4 L527.5 158.4 L527.2 156.5 L526.8 154.5 L526.5 152.5 L526.1 150.6 L525.7 148.6 L525.4 146.6 L525.0 144.7 L524.6 142.7 L524.2 140.7 L523.8 138.8 L523.4 136.8 L523.0 134.8 L522.6 132.9 L522.2 130.9 L521.8 129.0 L521.4 127.0 L521.0 125.0 L520.7 123.1 L520.3 121.1 L519.9 119.1 L519.5 117.2 L519.1 115.2 L518.7 113.2 L518.3 111.3 L517.8 109.3 L517.4 107.4 L516.9 105.4 L516.5 103.5 L516.0 101.5 L515.5 99.6 L515.0 97.7 L514.5 95.7 L514.0 93.8 L513.5 91.8 L513.0 89.9 L512.5 88.0 L511.9 86.0 L511.4 84.1 L510.9 82.2 L510.3 80.3 L509.8 78.3 L509.3 76.4 L508.7 74.5 L508.2 72.6 L507.6 70.6 L507.0 68.7 L506.5 66.8 L505.9 64.9 L505.3 63.0 L505.0 62.0" stroke-width="4.4"/>
<path d="M505.0 61.5 L503.0 61.5 L501.0 61.5 L499.0 61.5 L497.0 61.5 L495.0 61.6 L493.0 61.6 L491.0 61.6 L489.0 61.7 L487.0 61.7 L485.0 61.8 L483.0 61.9 L481.0 62.0 L479.0 62.2 L477.0 62.3 L475.0 62.5 L473.0 62.7 L471.1 62.9 L469.1 63.2 L467.1 63.4 L465.1 63.6 L463.1 63.9 L461.1 64.1 L459.1 64.4 L457.2 64.6 L455.2 64.9 L453.2 65.1 L451.2 65.3 L449.2 65.6 L447.2 65.8 L445.2 66.0 L443.2 66.2 L441.3 66.4 L439.3 66.6 L437.3 66.8 L435.3 67.1 L433.3 67.3 L431.3 67.5 L429.3 67.7 L427.3 67.9 L425.3 68.1 L423.4 68.3 L421.4 68.6 L419.4 68.8 L417.4 69.0 L415.4 69.3 L413.4 69.6 L411.4 69.9 L409.5 70.2 L407.5 70.5 L405.5 70.8 L403.5 71.1 L401.6 71.5 L399.6 71.8 L397.7 72.2 L395.7 72.6 L393.7 73.0 L391.8 73.4 L389.8 73.9 L387.9 74.3 L385.9 74.7 L384.0 75.1 L382.0 75.6 L380.0 76.0 L378.1 76.4 L376.1 76.8 L374.2 77.3 L372.2 77.7 L370.3 78.1 L368.3 78.5 L366.4 79.0 L364.4 79.4 L362.5 79.9 L360.5 80.3 L358.6 80.8 L356.6 81.3 L354.7 81.8 L352.8 82.4 L350.9 82.9 L349.0 83.5 L347.1 84.2 L345.2 84.9 L343.4 85.6 L341.5 86.4 L339.7 87.2 L337.9 88.1 L336.1 88.9 L334.3 89.8 L332.5 90.6 L330.7 91.5 L328.9 92.4 L327.1 93.3 L325.4 94.3 L323.7 95.3 L322.1 96.4 L320.5 97.6 L319.0 98.9 L317.5 100.2 L316.1 101.6 L314.8 103.1 L313.5 104.6 L312.3 106.2 L311.1 107.8 L309.9 109.4 L308.7 111.0 L307.6 112.7 L306.4 114.3 L305.3 115.9 L304.2 117.6 L303.0 119.2 L301.9 120.9 L300.8 122.5 L299.7 124.2 L298.5 125.9 L297.4 127.5 L296.3 129.2 L295.2 130.8 L294.1 132.5 L293.0 134.2 L291.9 135.8 L290.7 137.5 L289.6 139.1 L288.5 140.8 L287.4 142.5 L286.3 144.1 L285.1 145.8 L284.0 147.4 L282.9 149.1 L281.7 150.7 L280.6 152.4 L279.5 154.0 L278.3 155.7 L277.2 157.3 L276.0 158.9 L274.9 160.6 L273.8 162.2 L272.6 163.9 L271.5 165.5 L270.3 167.1 L269.2 168.8 L268.0 170.4 L266.9 172.1 L265.8 173.7 L264.6 175.4 L263.5 177.0 L262.3 178.6 L261.2 180.3 L260.1 181.9 L258.9 183.6 L257.8 185.2 L256.6 186.9 L255.5 188.5 L254.4 190.2 L253.2 191.8 L252.1 193.4 L251.0 195.1 L249.8 196.7 L248.7 198.4 L247.6 200.0 L246.4 201.7 L245.3 203.3 L244.1 205.0 L243.0 206.6 L241.9 208.3 L240.7 209.9 L239.6 211.6 L238.5 213.2 L237.3 214.9 L236.2 216.5 L235.1 218.2 L233.9 219.8 L232.8 221.5 L231.7 223.1 L230.5 224.8 L229.4 226.4 L228.3 228.1 L227.1 229.7 L226.0 231.3 L224.9 233.0 L223.7 234.6 L222.6 236.3 L221.4 237.9 L220.3 239.6 L219.1 241.2 L218.0 242.8 L216.8 244.5 L215.7 246.1 L214.5 247.7 L213.3 249.3 L212.2 251.0 L211.0 252.6 L209.8 254.2 L208.7 255.8 L207.5 257.5 L206.4 259.1 L205.2 260.7 L204.0 262.4 L202.9 264.0 L201.7 265.6 L200.6 267.3 L199.4 268.9 L198.3 270.5 L197.1 272.2 L196.0 273.8 L194.8 275.5 L193.7 277.1 L192.6 278.8 L191.5 280.4 L190.3 282.1 L189.2 283.7 L188.0 285.4 L186.9 287.0 L185.8 288.6 L184.6 290.3 L183.4 291.9 L182.3 293.5 L181.1 295.1 L179.9 296.7 L178.7 298.3 L177.5 299.9 L176.2 301.5 L174.9 303.0 L173.7 304.5 L172.4 306.0 L171.0 307.5 L169.6 309.0 L168.2 310.4 L166.7 311.7 L165.3 313.0 L163.8 314.4 L163.0 315.0" stroke-width="4.4"/>
<path d="M162.5 313.0 L162.2 311.0 L162.2 309.1 L162.4 307.2 L162.9 305.3 L163.8 303.5 L164.8 301.8 L165.9 300.2 L167.0 298.5 L168.2 296.9 L169.4 295.3 L170.6 293.7 L171.8 292.1 L173.0 290.4 L174.1 288.8 L175.3 287.2 L176.4 285.5 L177.6 283.9 L178.8 282.3 L179.9 280.6 L181.1 279.0 L182.2 277.4 L183.4 275.8 L184.6 274.1 L185.8 272.5 L187.0 270.9 L188.2 269.3 L189.3 267.7 L190.6 266.1 L191.8 264.5 L193.0 262.9 L194.2 261.3 L195.4 259.7 L196.6 258.1 L197.8 256.5 L199.0 254.9 L200.2 253.2 L201.3 251.6 L202.5 250.0 L203.6 248.3 L204.7 246.7 L205.9 245.0 L207.0 243.3 L208.1 241.7 L209.3 240.0 L210.4 238.4 L211.6 236.8 L212.7 235.1 L213.9 233.5 L215.1 231.9 L216.2 230.2 L217.4 228.6 L218.6 227.0 L219.7 225.3 L220.9 223.7 L222.1 222.1 L223.2 220.5 L224.4 218.8 L225.6 217.2 L226.7 215.6 L227.9 213.9 L229.1 212.3 L230.2 210.7 L231.4 209.1 L232.6 207.4 L233.7 205.8 L234.9 204.2 L236.1 202.5 L237.2 200.9 L238.4 199.3 L239.5 197.6 L240.7 196.0 L241.9 194.4 L243.0 192.7 L244.2 191.1 L245.4 189.5 L246.5 187.9 L247.7 186.2 L248.9 184.6 L250.0 183.0 L251.2 181.3 L252.4 179.7 L253.5 178.1 L254.7 176.4 L255.9 174.8 L257.0 173.2 L258.2 171.6 L259.4 169.9 L260.5 168.3 L261.7 166.7 L262.9 165.0 L264.0 163.4 L265.2 161.8 L266.4 160.1 L267.5 158.5 L268.7 156.9 L269.8 155.2 L271.0 153.6 L272.1 151.9 L273.3 150.3 L274.4 148.7 L275.6 147.0 L276.7 145.4 L277.8 143.7 L279.0 142.1 L280.1 140.4 L281.2 138.8 L282.4 137.1 L283.5 135.4 L284.6 133.8 L285.8 132.1 L286.9 130.5 L288.0 128.8 L289.2 127.2 L290.3 125.5 L291.5 123.9 L292.6 122.2 L293.7 120.6 L294.9 118.9 L296.0 117.3 L297.2 115.7 L298.3 114.0 L299.4 112.4 L300.6 110.7 L301.7 109.1 L302.9 107.4 L304.0 105.8 L305.1 104.1 L306.3 102.5 L307.4 100.8 L308.0 100.0" stroke-width="2.6"/>
<path d="M320.0 87.5 L321.8 86.6 L323.6 85.7 L325.4 84.9 L327.2 84.0 L329.0 83.1 L330.8 82.3 L332.7 81.5 L334.5 80.8 L336.4 80.0 L338.3 79.4 L340.2 78.8 L342.1 78.2 L344.0 77.6 L345.9 77.1 L347.9 76.6 L349.8 76.1 L351.7 75.5 L353.6 75.0 L355.6 74.4 L357.5 73.9 L359.4 73.4 L361.4 72.8 L363.3 72.3 L365.2 71.8 L367.2 71.3 L369.1 70.8 L371.0 70.2 L373.0 69.7 L374.9 69.3 L376.8 68.8 L378.8 68.3 L380.7 67.8 L382.7 67.4 L384.6 67.0 L386.6 66.5 L388.5 66.1 L390.5 65.7 L392.5 65.3 L394.4 64.9 L396.4 64.5 L398.4 64.1 L400.3 63.8 L402.3 63.4 L404.3 63.0 L406.2 62.7 L408.2 62.3 L410.2 62.0 L412.1 61.6 L414.1 61.3 L416.1 60.9 L418.0 60.6 L420.0 60.3 L422.0 59.9 L424.0 59.6 L425.9 59.3 L427.9 59.0 L429.9 58.7 L431.9 58.3 L433.8 58.0 L435.8 57.7 L437.8 57.4 L439.8 57.1 L441.8 56.8 L443.7 56.5 L445.7 56.2 L447.7 55.9 L449.7 55.6 L451.6 55.2 L453.6 54.9 L455.6 54.6 L457.6 54.3 L459.5 54.0 L461.5 53.7 L463.5 53.4 L465.5 53.1 L467.4 52.7 L469.4 52.4 L471.4 52.1 L473.4 51.8 L475.4 51.5 L477.3 51.2 L479.3 50.9 L481.3 50.6 L483.3 50.3 L485.2 50.0 L487.2 49.7 L489.2 49.4 L491.2 49.1 L493.2 48.9 L495.1 48.6 L497.1 48.4 L499.1 48.1 L501.1 47.9 L503.1 47.7 L505.1 47.6 L507.1 47.4 L509.1 47.3 L511.1 47.3 L513.1 47.3 L515.1 47.3 L517.1 47.3 L519.1 47.2 L521.1 47.2 L523.1 47.1 L525.1 47.0 L527.1 46.8 L529.1 46.6 L531.1 46.5 L533.1 46.3 L535.0 46.1 L537.0 45.9 L539.0 45.6 L541.0 45.4 L543.0 45.2 L545.0 45.0 L547.0 44.8 L549.0 44.6 L551.0 44.4 L553.0 44.2 L554.9 44.0 L556.9 43.8 L558.9 43.6 L560.9 43.4 L562.9 43.2 L564.9 42.9 L566.9 42.7 L568.9 42.4 L570.8 42.2 L572.8 41.9 L574.8 41.7 L576.8 41.5 L578.8 41.4 L580.8 41.4 L582.8 41.5 L584.8 41.7 L586.7 42.1 L588.7 42.5 L590.6 43.1 L592.5 43.7 L594.4 44.4 L596.2 45.2 L598.0 46.1 L599.8 47.0 L601.5 48.0 L603.2 49.0 L604.9 50.1 L606.6 51.2 L608.2 52.3 L609.9 53.5 L611.5 54.7 L613.0 55.9 L614.6 57.1 L616.1 58.4 L617.6 59.8 L619.1 61.1 L620.5 62.5 L622.0 63.9 L623.4 65.3 L624.8 66.8 L626.2 68.2 L627.5 69.7 L628.9 71.1 L630.3 72.6 L631.6 74.1 L633.0 75.5 L634.3 77.0 L635.6 78.5 L637.0 80.0 L638.3 81.5 L639.7 83.0 L641.0 84.4 L642.3 85.9 L643.6 87.4 L645.0 89.0 L646.3 90.5 L647.6 92.0 L648.9 93.5 L650.2 95.0 L651.4 96.6 L652.7 98.1 L654.0 99.7 L655.2 101.2 L656.5 102.8 L657.7 104.4 L658.9 106.0 L660.1 107.5 L661.3 109.1 L662.5 110.8 L663.7 112.4 L664.9 114.0 L666.0 115.6 L667.2 117.3 L668.3 118.9 L669.5 120.6 L670.6 122.2 L671.7 123.9 L672.8 125.5 L673.9 127.2 L675.0 128.9 L676.1 130.6 L677.2 132.2 L678.3 133.9 L679.3 135.6 L680.4 137.3 L681.5 139.0 L682.5 140.7 L683.5 142.4 L684.5 144.2 L685.3 145.9 L685.9 147.7 L686.0 149.4 L685.5 151.0 L684.6 152.5 L683.4 154.1 L682.1 155.6 L680.7 157.0 L679.3 158.4 L677.8 159.7 L676.2 161.0 L674.7 162.2 L673.1 163.5 L671.5 164.7 L669.9 165.9 L668.3 167.1 L666.7 168.2 L665.0 169.4 L663.4 170.6 L661.8 171.7 L660.1 172.9 L658.5 174.0 L656.9 175.2 L655.2 176.3 L653.6 177.5 L652.0 178.6 L650.3 179.8 L648.7 180.9 L647.0 182.1 L645.4 183.2 L643.8 184.4 L642.1 185.5 L640.5 186.7 L638.9 187.8 L637.2 189.0 L635.6 190.1 L633.9 191.3 L632.3 192.4 L630.7 193.5 L629.0 194.7 L627.4 195.8 L625.7 197.0 L624.1 198.1 L622.4 199.3 L620.8 200.4 L619.2 201.6 L617.5 202.7 L615.9 203.8 L614.2 205.0 L612.6 206.1 L611.0 207.3 L609.3 208.4 L607.7 209.6 L606.0 210.7 L604.4 211.9 L602.7 213.0 L601.1 214.1 L599.5 215.3 L597.8 216.4 L597.0 217.0" stroke-width="2.8"/>
<path d="M546.0 60.0 L545.6 58.1 L545.5 56.3 L545.9 54.7 L547.0 53.5 L548.5 52.6 L550.3 52.1 L552.3 51.8 L554.2 51.5 L556.2 51.4 L558.2 51.2 L560.2 51.1 L562.2 51.1 L564.2 51.0 L566.2 51.0 L568.3 51.0 L570.3 51.2 L572.2 51.3 L574.2 51.6 L576.2 52.0 L578.1 52.4 L580.1 53.0 L582.0 53.6 L583.8 54.3 L585.7 55.0 L587.5 55.8 L589.3 56.7 L591.1 57.6 L592.9 58.5 L594.7 59.5 L596.4 60.5 L598.1 61.6 L599.8 62.7 L601.4 63.8 L603.1 64.9 L604.7 66.1 L606.2 67.4 L607.8 68.6 L609.4 69.9 L610.9 71.2 L612.4 72.5 L613.9 73.9 L615.3 75.2 L616.8 76.6 L618.2 78.1 L619.5 79.5 L620.9 81.0 L622.2 82.6 L623.5 84.1 L624.7 85.7 L625.9 87.2 L627.2 88.8 L628.4 90.4 L629.6 92.0 L630.8 93.6 L631.9 95.3 L633.1 96.9 L634.3 98.5 L635.5 100.1 L636.7 101.7 L637.9 103.3 L639.1 105.0 L640.2 106.6 L641.4 108.2 L642.6 109.8 L643.8 111.5 L644.9 113.1 L646.1 114.7 L647.2 116.4 L648.4 118.0 L649.5 119.6 L650.7 121.3 L651.8 122.9 L652.9 124.6 L654.0 126.3 L655.1 128.0 L656.1 129.7 L657.1 131.4 L658.1 133.2 L658.9 135.0 L659.5 136.9 L659.9 138.7 L659.8 140.6 L659.4 142.5 L658.6 144.2 L657.5 145.9 L656.3 147.5 L655.0 149.0 L653.6 150.4 L652.1 151.8 L650.6 153.1 L649.0 154.3 L647.4 155.5 L645.8 156.6 L644.1 157.8 L642.4 158.9 L640.8 160.0 L639.1 161.1 L637.5 162.2 L635.8 163.4 L634.2 164.5 L632.5 165.7 L630.9 166.8 L629.3 168.0 L627.6 169.2 L626.0 170.3 L624.3 171.5 L622.7 172.6 L621.0 173.7 L619.3 174.8 L617.7 175.9 L616.0 176.9 L614.2 178.0 L612.5 179.0 L610.8 180.1 L609.1 181.1 L607.3 182.1 L605.6 183.1 L603.9 184.1 L602.1 185.0 L600.3 186.0 L598.6 186.9 L596.8 187.9 L595.0 188.8 L593.3 189.7 L591.5 190.7 L589.8 191.7 L588.0 192.7 L586.3 193.8 L584.7 194.9 L583.0 196.0 L583.0 196.0" stroke-width="5.0"/>
<path d="M583.0 196.0 L583.0 194.0 L582.9 192.0 L582.7 190.0 L582.5 188.0 L582.2 186.0 L581.9 184.0 L581.5 182.1 L581.2 180.1 L580.9 178.1 L580.5 176.1 L580.2 174.1 L579.9 172.2 L579.6 170.2 L579.3 168.2 L578.9 166.2 L578.6 164.2 L578.3 162.2 L577.9 160.3 L577.6 158.3 L577.2 156.3 L576.8 154.3 L576.4 152.4 L576.0 150.4 L575.6 148.4 L575.1 146.5 L574.7 144.5 L574.2 142.6 L573.7 140.6 L573.2 138.7 L572.7 136.8 L572.2 134.8 L571.6 132.9 L571.1 130.9 L570.5 129.0 L570.0 127.1 L569.4 125.2 L568.8 123.2 L568.2 121.3 L567.7 119.4 L567.1 117.5 L566.5 115.6 L565.8 113.7 L565.2 111.8 L564.6 109.8 L563.9 107.9 L563.3 106.0 L562.7 104.1 L562.0 102.2 L561.3 100.3 L560.7 98.5 L560.0 96.6 L559.3 94.7 L558.6 92.8 L558.0 90.9 L557.3 89.0 L556.6 87.1 L555.9 85.2 L555.2 83.3 L554.5 81.5 L553.8 79.6 L553.1 77.7 L552.4 75.8 L551.7 73.9 L550.9 72.1 L550.2 70.2 L549.4 68.4 L548.7 66.5 L547.9 64.6 L547.2 62.8 L546.4 60.9 L546.0 60.0" stroke-width="5.0"/>
<path d="M513.0 65.0 L513.9 66.8 L514.9 68.5 L515.8 70.3 L516.7 72.1 L517.5 74.0 L518.3 75.8 L519.0 77.7 L519.6 79.6 L520.2 81.5 L520.8 83.4 L521.3 85.4 L521.8 87.3 L522.3 89.2 L522.8 91.2 L523.3 93.1 L523.8 95.1 L524.2 97.0 L524.7 99.0 L525.2 100.9 L525.6 102.9 L526.1 104.8 L526.6 106.8 L527.0 108.8 L527.5 110.7 L528.0 112.7 L528.5 114.6 L528.9 116.5 L529.4 118.5 L529.9 120.4 L530.4 122.4 L530.9 124.3 L531.4 126.3 L531.9 128.2 L532.4 130.2 L532.9 132.1 L533.4 134.0 L533.9 136.0 L534.4 137.9 L534.9 139.9 L535.4 141.8 L535.9 143.8 L536.3 145.7 L536.8 147.7 L537.3 149.6 L537.7 151.6 L538.1 153.6 L538.6 155.5 L539.0 157.5 L539.5 159.4 L539.9 161.4 L540.3 163.3 L540.7 165.3 L541.2 167.3 L541.6 169.2 L542.0 171.2 L542.4 173.2 L542.8 175.1 L543.1 177.1 L543.5 179.1 L543.8 181.1 L544.2 183.0 L544.5 185.0 L544.8 187.0 L545.1 189.0 L545.4 191.0 L545.7 193.0 L545.9 195.0 L546.2 196.9 L546.4 198.9 L546.6 200.9 L546.8 202.9 L547.0 204.9 L547.2 206.9 L547.3 208.9 L547.5 210.9 L547.7 212.9 L547.8 214.9 L548.0 216.9 L548.2 218.9 L548.3 220.9 L548.5 222.9 L548.7 224.9 L548.8 226.9 L549.0 228.9 L549.2 230.9 L549.3 232.9 L549.5 234.9 L549.7 236.9 L549.8 238.9 L550.0 240.9 L550.1 242.9 L550.3 244.9 L550.4 246.9 L550.6 248.9 L550.7 250.9 L550.8 252.9 L551.0 254.9 L551.1 256.9 L551.2 259.0 L551.3 261.0 L551.5 263.0 L551.6 265.0 L551.7 267.0 L551.7 269.0 L551.8 271.0 L551.9 273.0 L551.9 275.0 L552.0 277.0 L552.0 278.0" stroke-width="2.6"/>
<path d="M552.0 278.0 L574.0 278.0" stroke-width="2.6"/>
<path d="M522.0 55.0 L522.8 56.8 L523.6 58.7 L524.4 60.5 L525.2 62.3 L526.0 64.2 L526.8 66.0 L527.6 67.8 L528.4 69.7 L529.2 71.5 L529.9 73.4 L530.6 75.2 L531.3 77.1 L532.0 79.0 L532.7 80.9 L533.3 82.8 L533.9 84.7 L534.5 86.6 L535.1 88.5 L535.7 90.4 L536.3 92.3 L536.8 94.3 L537.4 96.2 L537.9 98.1 L538.5 100.0 L539.0 102.0 L539.6 103.9 L540.2 105.8 L540.7 107.7 L541.3 109.6 L541.8 111.6 L542.4 113.5 L543.0 115.4 L543.6 117.3 L544.2 119.2 L544.9 121.1 L545.5 123.0 L546.2 124.9 L546.8 126.8 L547.5 128.7 L548.1 130.6 L548.8 132.5 L549.4 134.3 L550.1 136.2 L550.7 138.1 L551.4 140.0 L552.0 141.9 L552.6 143.8 L553.2 145.8 L553.8 147.7 L554.3 149.6 L554.8 151.5 L555.3 153.5 L555.8 155.4 L556.2 157.4 L556.6 159.3 L557.0 161.3 L557.4 163.2 L557.8 165.2 L558.3 167.2 L558.7 169.1 L559.1 171.1 L559.6 173.0 L560.1 175.0 L560.6 176.9 L561.2 178.8 L561.8 180.7 L562.5 182.6 L563.1 184.5 L563.9 186.3 L564.6 188.2 L565.4 190.0 L566.1 191.9 L566.9 193.7 L567.7 195.6 L568.5 197.4 L569.3 199.3 L570.1 201.1 L570.8 203.0 L571.5 204.8 L572.2 206.7 L572.9 208.6 L573.6 210.4 L574.3 212.3 L575.0 214.2 L575.6 216.1 L576.3 218.0 L577.0 219.9 L577.6 221.8 L578.2 223.7 L578.8 225.6 L579.4 227.5 L580.0 229.4 L580.5 231.3 L581.0 233.3 L581.5 235.2 L582.0 237.2 L582.5 239.1 L582.9 241.1 L583.4 243.0 L583.8 245.0 L584.1 246.9 L584.5 248.9 L584.9 250.9 L585.2 252.8 L585.6 254.8 L585.9 256.8 L586.2 258.8 L586.5 260.7 L586.8 262.7 L587.1 264.7 L587.4 266.7 L587.6 268.7 L587.9 270.7 L588.1 272.6 L588.4 274.6 L588.6 276.6 L588.8 278.6 L589.1 280.6 L589.3 282.6 L589.5 284.6 L589.7 286.6 L589.9 288.6 L590.0 290.5 L590.2 292.5 L590.4 294.5 L590.6 296.5 L590.7 298.5 L590.9 300.5 L591.0 302.5 L591.2 304.5 L591.3 306.5 L591.4 308.5 L591.6 310.5 L591.7 312.5 L591.8 314.5 L591.9 316.5 L591.9 318.5 L592.0 320.5 L592.0 322.5 L592.0 324.5 L592.0 326.5 L592.0 328.5 L592.0 330.5 L591.9 332.5 L591.8 334.5 L591.8 336.5 L591.7 338.5 L591.6 340.5 L591.5 342.5 L591.5 343.5" stroke-width="2.6"/>
<path d="M591.5 343.5 L589.6 344.0 L587.6 344.5 L585.7 344.8 L583.7 345.1 L581.7 345.2 L579.7 345.3 L577.6 345.4 L575.6 345.5 L573.6 345.6 L571.7 345.8 L569.7 346.2 L567.9 346.8 L566.2 347.7 L564.7 348.9 L563.5 350.4 L562.5 352.1 L561.6 353.9 L560.8 355.7 L560.1 357.6 L559.4 359.5 L558.8 361.4 L558.2 363.3 L557.6 365.2 L557.0 367.1 L556.4 369.1 L555.8 371.0 L555.2 372.9 L554.6 374.8 L554.0 376.7 L553.5 378.7 L552.9 380.6 L552.3 382.5 L551.7 384.4 L551.2 386.4 L550.6 388.3 L550.1 390.2 L549.6 392.2 L549.0 394.1 L548.5 396.1 L548.0 398.0 L548.0 398.0" stroke-width="2.6"/>
<path d="M548.0 398.0 L560.0 408.0 L567.5 415.5" stroke-width="2.6"/>
<path d="M591.5 343.5 L597.5 354.0 L601.0 364.0" stroke-width="2.6"/>
<path d="M592.0 236.0 L592.5 238.0 L593.0 239.9 L593.5 241.8 L594.0 243.8 L594.5 245.7 L595.0 247.7 L595.5 249.6 L596.0 251.6 L596.5 253.5 L597.0 255.5 L597.4 257.5 L597.9 259.4 L598.3 261.4 L598.7 263.4 L599.1 265.3 L599.5 267.3 L599.8 269.3 L600.2 271.3 L600.5 273.3 L600.7 275.3 L601.0 277.3 L601.2 279.3 L601.5 281.3 L601.7 283.3 L601.9 285.3 L602.1 287.3 L602.3 289.3 L602.5 291.3 L602.6 293.3 L602.8 295.3 L603.0 297.3 L603.1 299.3 L603.3 301.3 L603.5 303.3 L603.6 305.3 L603.8 307.3 L603.9 309.3 L604.1 311.3 L604.3 313.3 L604.4 315.3 L604.6 317.4 L604.7 319.4 L604.8 321.4 L604.9 323.4 L604.9 325.4 L605.0 327.4 L605.0 329.4 L604.9 331.4 L604.8 333.4 L604.6 335.4 L604.4 337.4 L604.2 339.4 L603.9 341.4 L603.7 343.4 L603.5 345.4 L603.3 347.4 L603.1 349.4 L603.0 351.5 L602.8 353.5 L602.7 355.5 L602.5 357.5 L602.4 359.5 L602.2 361.5 L602.1 363.5 L602.0 364.5" stroke-width="2.6"/>
<path d="M602.0 364.5 L601.3 366.4 L600.7 368.2 L600.3 370.2 L600.0 372.2 L599.8 374.2 L599.5 376.1 L599.2 378.1 L598.8 380.1 L598.3 382.0 L597.8 384.0 L597.3 385.9 L596.7 387.8 L596.1 389.7 L595.4 391.6 L594.8 393.5 L594.1 395.4 L593.4 397.3 L592.6 399.1 L591.8 401.0 L591.0 402.8 L590.2 404.7 L589.4 406.5 L588.7 408.4 L588.0 410.3 L587.3 412.2 L586.6 414.0 L585.8 415.9 L585.0 417.7 L584.1 419.5 L583.2 421.3 L582.3 423.1 L581.3 424.9 L580.3 426.6 L579.3 428.3 L578.2 430.0 L577.1 431.7 L576.0 433.4 L575.0 435.1 L573.9 436.8 L572.8 438.5 L571.7 440.2 L570.7 441.9 L569.6 443.6 L568.5 445.3 L567.4 446.9 L566.3 448.6 L565.2 450.3 L564.1 451.9 L562.9 453.6 L561.7 455.2 L560.5 456.8 L559.2 458.3 L557.9 459.9 L556.6 461.4 L555.2 462.8 L553.8 464.2 L552.3 465.6 L550.9 467.0 L549.4 468.4 L547.9 469.8 L546.5 471.1 L545.0 472.5 L545.0 472.5" stroke-width="2.6"/>
<path d="M602.0 364.5 L600.0 364.4 L598.0 364.3 L595.9 364.2 L593.9 364.2 L591.9 364.2 L589.9 364.3 L588.0 364.7 L586.3 365.5 L584.9 366.7 L583.8 368.2 L582.8 369.9 L581.9 371.7 L581.0 373.5 L580.1 375.3 L579.2 377.1 L578.3 379.0 L577.5 380.8 L576.7 382.7 L576.0 384.5 L575.3 386.4 L574.8 388.4 L574.5 390.3 L574.5 392.3 L574.8 394.2 L575.5 396.1 L576.5 397.7 L577.7 399.3 L579.1 400.7 L580.7 402.0 L582.3 403.0 L584.1 403.8 L586.0 404.4 L588.0 404.7 L590.0 405.0 L590.0 405.0" stroke-width="2.6"/>
<path d="M602.0 238.0 L602.5 239.9 L602.9 241.9 L603.4 243.8 L603.9 245.8 L604.4 247.7 L604.9 249.7 L605.3 251.6 L605.8 253.5 L606.3 255.5 L606.8 257.4 L607.2 259.4 L607.7 261.3 L608.2 263.3 L608.6 265.2 L609.1 267.2 L609.6 269.1 L610.0 271.1 L610.5 273.0 L610.9 275.0 L611.3 276.9 L611.7 278.9 L612.2 280.8 L612.6 282.8 L613.0 284.7 L613.4 286.7 L613.8 288.7 L614.2 290.6 L614.6 292.6 L614.9 294.6 L615.3 296.5 L615.6 298.5 L615.9 300.5 L616.2 302.5 L616.4 304.4 L616.6 306.4 L616.8 308.4 L617.0 310.4 L617.1 312.4 L617.3 314.4 L617.4 316.4 L617.4 318.4 L617.5 320.4 L617.5 322.4 L617.6 324.4 L617.6 326.4 L617.6 328.4 L617.6 330.4 L617.6 332.4 L617.6 334.4 L617.6 336.4 L617.5 338.4 L617.5 340.4 L617.5 342.4 L617.5 344.4 L617.5 346.4 L617.6 348.4 L617.6 350.4 L617.6 352.4 L617.5 354.4 L617.4 356.4 L617.2 358.4 L616.9 360.4 L616.6 362.3 L616.2 364.3 L615.8 366.3 L615.5 368.2 L615.0 370.2 L614.6 372.1 L614.2 374.1 L613.7 376.0 L613.3 378.0 L612.8 379.9 L612.3 381.9 L611.8 383.8 L611.3 385.7 L610.8 387.7 L610.3 389.6 L609.8 391.6 L609.3 393.5 L608.8 395.4 L608.3 397.4 L607.8 399.3 L607.2 401.2 L606.7 403.1 L606.1 405.1 L605.5 407.0 L604.9 408.9 L604.3 410.8 L603.6 412.7 L602.9 414.5 L602.2 416.4 L601.5 418.3 L600.7 420.1 L599.9 421.9 L599.1 423.8 L598.3 425.6 L597.4 427.4 L596.6 429.2 L595.7 431.0 L594.8 432.8 L593.9 434.6 L593.0 436.4 L592.1 438.1 L591.1 439.9 L590.1 441.7 L589.1 443.4 L588.1 445.1 L587.1 446.8 L586.0 448.5 L584.8 450.1 L583.6 451.7 L582.4 453.3 L581.1 454.8 L579.8 456.3 L578.5 457.8 L577.1 459.3 L575.8 460.8 L574.4 462.3 L573.1 463.8 L571.8 465.3 L570.6 466.8 L569.3 468.4 L568.1 470.0 L566.9 471.6 L565.6 473.1 L564.4 474.7 L563.1 476.3 L561.9 477.8 L560.5 479.3 L559.2 480.8 L557.8 482.2 L556.3 483.5 L554.6 484.5 L552.9 485.4 L551.0 486.1 L549.1 486.6 L547.1 487.0 L545.2 487.3 L543.2 487.6 L541.2 487.9 L539.2 488.2 L537.3 488.5 L535.3 488.8 L533.3 489.2 L531.3 489.5 L529.4 489.9 L527.4 490.3 L525.5 490.7 L523.5 491.1 L521.5 491.5 L519.6 491.9 L517.6 492.3 L515.7 492.7 L513.7 493.1 L511.8 493.5 L509.8 494.0 L507.8 494.4 L505.9 494.8 L503.9 495.2 L502.0 495.6 L500.0 496.0 L500.0 496.0" stroke-width="2.6"/>
<path d="M549.5 336.0 L549.4 338.0 L549.3 340.0 L549.1 342.0 L549.0 344.0 L548.8 346.0 L548.6 348.0 L548.3 350.0 L548.1 351.9 L547.8 353.9 L547.5 355.9 L547.1 357.9 L546.8 359.9 L546.5 361.8 L546.1 363.8 L545.8 365.8 L545.4 367.7 L545.1 369.7 L544.7 371.7 L544.2 373.6 L543.8 375.6 L543.3 377.5 L542.8 379.5 L542.3 381.4 L541.7 383.3 L541.1 385.2 L540.5 387.1 L539.9 389.0 L539.2 390.9 L538.6 392.8 L537.9 394.7 L537.2 396.6 L536.4 398.4 L535.7 400.3 L534.9 402.1 L534.1 404.0 L533.3 405.8 L532.4 407.6 L531.6 409.4 L530.6 411.2 L529.7 412.9 L528.7 414.7 L527.6 416.4 L526.5 418.0 L525.4 419.7 L524.2 421.3 L522.9 422.9 L521.7 424.4 L520.4 425.9 L519.1 427.5 L517.7 428.9 L516.4 430.4 L515.1 431.9 L513.7 433.4 L512.3 434.8 L510.9 436.3 L509.5 437.7 L508.0 439.1 L506.6 440.4 L505.1 441.7 L503.6 443.1 L502.0 444.3 L500.5 445.6 L498.9 446.8 L497.3 448.0 L495.7 449.2 L494.1 450.4 L492.4 451.5 L490.8 452.7 L489.1 453.8 L487.5 455.0 L485.8 456.1 L484.1 457.2 L482.5 458.3 L480.8 459.4 L480.0 460.0" stroke-width="2.6"/>
<path d="M562.0 284.0 L562.0 320.0" stroke-width="2.6"/>
<path d="M552.0 322.0 L565.0 323.0 L580.0 326.0" stroke-width="2.6"/>
<path d="M570.0 298.0 L575.0 302.0 L584.0 304.0" stroke-width="2.6"/>
<path d="M548.0 336.0 L548.0 344.0" stroke-width="2.6"/>
<path d="M534.5 420.0 L552.5 443.0 L569.0 420.0" stroke-width="2.6"/>
<path d="M525.5 435.0 L539.0 460.5 L552.5 445.0" stroke-width="2.6"/>
<path d="M626.0 236.0 L627.9 235.3 L629.7 234.6 L631.6 233.8 L633.5 233.1 L635.3 232.4 L637.2 231.6 L639.1 230.9 L640.9 230.2 L642.8 229.5 L644.7 228.7 L646.5 228.0 L648.4 227.3 L650.3 226.6 L652.1 225.9 L654.0 225.1 L655.9 224.4 L657.8 223.7 L659.6 223.0 L661.5 222.4 L663.4 221.7 L665.3 221.0 L667.2 220.3 L669.1 219.7 L670.9 219.0 L672.8 218.4 L674.7 217.7 L676.6 217.1 L678.5 216.5 L680.5 215.9 L682.4 215.3 L684.3 214.7 L686.2 214.1 L688.1 213.5 L690.0 212.9 L691.9 212.3 L693.8 211.7 L695.7 211.1 L697.7 210.5 L699.6 209.9 L701.5 209.4 L703.4 208.8 L705.3 208.2 L707.3 207.7 L709.2 207.1 L711.1 206.6 L713.1 206.1 L715.0 205.6 L716.9 205.0 L718.9 204.5 L720.8 204.0 L722.7 203.5 L724.7 203.0 L726.6 202.5 L728.6 202.1 L730.5 201.6 L732.4 201.1 L734.4 200.6 L736.3 200.2 L738.3 199.7 L740.2 199.3 L742.2 198.8 L744.1 198.3 L746.1 197.9 L748.0 197.5 L750.0 197.0 L751.9 196.6 L753.9 196.1 L755.9 195.7 L757.8 195.3 L759.8 194.8 L761.7 194.4 L763.7 194.0 L765.6 193.6 L767.6 193.1 L769.6 192.7 L771.5 192.3 L773.5 191.9 L775.4 191.5 L777.4 191.1 L779.3 190.6 L781.3 190.2 L783.3 189.8 L785.2 189.4 L787.2 189.0 L789.1 188.6 L791.1 188.2 L793.1 187.8 L795.0 187.4 L797.0 187.0 L798.9 186.5 L800.9 186.1 L802.9 185.7 L804.8 185.3 L806.8 184.9 L808.8 184.5 L810.7 184.1 L812.7 183.7 L814.6 183.3 L816.6 182.9 L818.6 182.5 L820.5 182.1 L822.5 181.7 L824.4 181.3 L826.4 180.9 L828.4 180.5 L830.3 180.1 L832.3 179.7 L834.3 179.3 L836.2 178.9 L838.2 178.5 L840.1 178.1 L842.1 177.7 L844.1 177.3 L846.0 176.9 L848.0 176.5 L850.0 176.1 L851.9 175.7 L853.9 175.3 L855.8 174.9 L857.8 174.6 L859.8 174.2 L861.7 173.8 L863.7 173.4 L865.7 173.0 L867.6 172.6 L869.6 172.2 L871.5 171.8 L873.5 171.4 L875.5 171.0 L877.4 170.6 L879.4 170.2 L881.4 169.8 L883.3 169.4 L885.3 169.0 L887.2 168.6 L889.2 168.2 L891.2 167.8 L893.1 167.4 L895.1 167.0 L897.1 166.6 L899.0 166.2 L900.0 166.0" stroke-width="2.8"/>
<path d="M632.0 238.0 L634.0 237.7 L636.0 237.4 L637.9 237.1 L639.9 236.8 L641.9 236.5 L643.9 236.1 L645.8 235.8 L647.8 235.5 L649.8 235.2 L651.8 234.9 L653.7 234.6 L655.7 234.3 L657.7 234.0 L659.7 233.6 L661.6 233.3 L663.6 233.0 L665.6 232.6 L667.5 232.3 L669.5 231.9 L671.5 231.6 L673.5 231.2 L675.4 230.9 L677.4 230.5 L679.4 230.1 L681.3 229.8 L683.3 229.4 L685.3 229.0 L687.2 228.7 L689.2 228.3 L691.2 228.0 L693.1 227.6 L695.1 227.3 L697.1 226.9 L699.0 226.6 L701.0 226.2 L703.0 225.9 L705.0 225.5 L706.9 225.2 L708.9 224.8 L710.8 224.4 L712.8 224.0 L714.8 223.6 L716.7 223.2 L718.7 222.8 L720.6 222.4 L722.6 222.0 L724.5 221.5 L726.5 221.1 L728.4 220.6 L730.4 220.2 L732.3 219.7 L734.3 219.2 L736.2 218.7 L738.1 218.2 L740.1 217.7 L742.0 217.2 L743.9 216.7 L745.9 216.1 L747.8 215.6 L749.7 215.1 L751.7 214.5 L753.6 214.0 L755.5 213.4 L757.4 212.8 L759.3 212.3 L761.3 211.7 L763.2 211.1 L765.1 210.5 L767.0 210.0 L768.9 209.4 L770.8 208.8 L772.7 208.2 L774.6 207.6 L776.6 207.0 L778.5 206.4 L780.4 205.8 L782.3 205.2 L784.2 204.6 L786.1 204.0 L788.0 203.4 L789.9 202.8 L791.8 202.2 L793.7 201.6 L795.6 201.0 L797.5 200.4 L799.4 199.8 L801.3 199.2 L803.2 198.5 L805.2 197.9 L807.1 197.3 L809.0 196.7 L810.9 196.1 L812.8 195.5 L814.7 194.9 L816.6 194.2 L818.5 193.6 L820.4 193.0 L822.3 192.4 L824.2 191.8 L826.1 191.2 L828.0 190.5 L829.9 189.9 L831.8 189.3 L833.7 188.7 L835.6 188.1 L837.5 187.4 L839.4 186.8 L841.3 186.2 L843.2 185.6 L845.1 185.0 L847.0 184.3 L848.9 183.7 L850.8 183.1 L852.7 182.5 L854.6 181.8 L856.5 181.2 L858.4 180.6 L860.3 180.0 L862.2 179.4 L864.1 178.7 L866.0 178.1 L867.9 177.5 L869.8 176.9 L871.7 176.3 L873.6 175.7 L875.5 175.0 L877.4 174.4 L879.3 173.8 L881.2 173.2 L883.2 172.6 L885.1 172.0 L887.0 171.4 L888.9 170.8 L890.8 170.2 L892.7 169.6 L894.6 169.0 L896.5 168.4 L898.3 167.9 L899.9 167.5 L901.3 167.1 L902.0 167.0" stroke-width="2.8"/>
<path d="M822.0 285.0 L823.6 286.1 L825.3 287.3 L826.9 288.4 L828.5 289.6 L830.1 290.8 L831.7 292.1 L833.2 293.4 L834.6 294.8 L836.0 296.2 L837.3 297.7 L838.6 299.3 L839.8 300.8 L840.9 302.5 L842.0 304.2 L843.0 305.9 L843.9 307.7 L844.7 309.5 L845.4 311.4 L846.0 313.3 L846.5 315.2 L847.0 317.1 L847.4 319.1 L847.8 321.1 L848.1 323.0 L848.4 325.0 L848.6 327.0 L848.8 329.0 L848.9 331.0 L849.0 333.0 L849.0 335.0 L849.0 337.0 L848.9 339.0 L848.8 341.0 L848.7 343.0 L848.5 345.0 L848.2 346.9 L848.0 348.9 L847.7 350.9 L847.3 352.9 L847.0 354.8 L846.6 356.8 L846.1 358.8 L845.7 360.7 L845.2 362.6 L844.6 364.6 L844.1 366.5 L843.5 368.4 L842.9 370.3 L842.4 372.2 L841.8 374.1 L841.2 376.1 L840.6 378.0 L840.0 379.9 L839.5 381.8 L838.9 383.7 L838.3 385.6 L837.8 387.6 L837.2 389.5 L836.6 391.4 L836.0 393.3 L835.5 395.2 L834.9 397.1 L834.3 399.0 L834.0 400.0" stroke-width="2.6"/>
<path d="M827.0 297.0 L827.9 298.8 L828.8 300.6 L829.7 302.4 L830.6 304.2 L831.5 306.0 L832.4 307.8 L833.2 309.6 L834.0 311.4 L834.8 313.3 L835.5 315.2 L836.1 317.1 L836.6 319.0 L837.1 321.0 L837.4 322.9 L837.7 324.9 L837.8 326.9 L838.0 328.9 L838.0 330.9 L838.0 332.9 L837.9 334.9 L837.8 336.9 L837.7 338.9 L837.5 340.9 L837.2 342.9 L837.0 344.9 L836.6 346.9 L836.3 348.9 L835.9 350.8 L835.4 352.8 L834.9 354.7 L834.4 356.7 L833.8 358.6 L833.2 360.5 L832.6 362.4 L832.0 364.3 L831.3 366.2 L830.6 368.1 L830.0 370.0 L829.2 371.9 L828.4 373.7 L827.6 375.5 L826.7 377.3 L825.8 379.1 L824.9 380.9 L824.0 382.7 L823.1 384.5 L822.3 386.3 L821.6 388.2 L820.9 390.1 L820.2 392.0 L819.5 393.8 L818.8 395.7 L818.2 397.6 L817.5 399.5 L816.9 401.4 L816.2 403.3 L815.6 405.2 L815.0 407.1 L814.3 409.0 L814.0 410.0" stroke-width="2.6"/>
<path d="M159.0 540.0 L161.0 539.6 L162.9 539.1 L164.9 538.7 L166.8 538.2 L168.8 537.8 L170.7 537.4 L172.7 536.9 L174.6 536.5 L176.6 536.0 L178.5 535.6 L180.5 535.2 L182.4 534.7 L184.4 534.3 L186.3 533.8 L188.3 533.4 L190.2 533.0 L192.2 532.5 L194.1 532.1 L196.1 531.6 L198.0 531.2 L200.0 530.8 L201.9 530.3 L203.9 529.9 L205.8 529.5 L207.8 529.0 L209.7 528.6 L211.7 528.2 L213.6 527.7 L215.6 527.3 L217.5 526.9 L219.5 526.4 L221.4 526.0 L223.4 525.5 L225.3 525.1 L227.3 524.7 L229.3 524.2 L231.2 523.8 L233.2 523.3 L235.1 522.9 L237.1 522.4 L239.0 522.0 L240.9 521.5 L242.9 521.1 L244.8 520.6 L246.8 520.2 L248.7 519.7 L250.7 519.2 L252.6 518.8 L254.6 518.3 L256.5 517.8 L258.4 517.3 L260.4 516.8 L262.3 516.3 L264.3 515.9 L266.2 515.4 L268.1 514.9 L270.1 514.4 L272.0 513.9 L273.9 513.4 L275.9 512.9 L277.8 512.4 L279.8 511.8 L281.7 511.3 L283.6 510.8 L285.6 510.3 L287.5 509.8 L289.4 509.3 L291.4 508.8 L293.3 508.3 L295.2 507.8 L297.2 507.3 L299.1 506.8 L301.0 506.3 L302.0 506.0" stroke-width="2.6"/>
<path d="M326.0 502.0 L327.9 501.4 L329.9 500.9 L331.8 500.3 L333.7 499.8 L335.7 499.2 L337.6 498.6 L339.5 498.1 L341.5 497.5 L343.4 496.9 L345.3 496.4 L347.3 495.8 L349.2 495.3 L351.1 494.7 L353.1 494.1 L355.0 493.6 L356.9 493.0 L358.9 492.5 L360.8 491.9 L362.7 491.4 L364.7 490.8 L366.6 490.3 L368.5 489.7 L370.5 489.2 L372.4 488.6 L374.4 488.1 L376.3 487.5 L378.2 487.0 L380.2 486.5 L382.1 485.9 L384.1 485.4 L386.0 484.9 L387.9 484.3 L389.9 483.8 L391.8 483.3 L393.8 482.8 L395.7 482.3 L397.7 481.8 L399.6 481.3 L401.6 480.7 L403.5 480.2 L405.5 479.7 L407.4 479.2 L409.4 478.7 L411.3 478.2 L413.3 477.7 L415.2 477.2 L417.2 476.7 L419.1 476.2 L421.1 475.7 L423.0 475.3 L425.0 474.8 L426.9 474.3 L428.9 473.8 L430.8 473.3 L432.8 472.8 L434.7 472.3 L436.7 471.9 L438.6 471.4 L440.6 470.9 L442.6 470.4 L444.5 470.0 L446.5 469.5 L448.4 469.0 L450.4 468.6 L452.4 468.1 L454.3 467.7 L456.3 467.2 L458.2 466.7 L460.2 466.3 L462.2 465.8 L464.1 465.4 L466.1 464.9 L468.0 464.5 L470.0 464.0 L470.0 464.0" stroke-width="2.6"/>
<path d="M159.0 541.0 L159.6 542.9 L160.2 544.8 L161.0 546.6 L161.9 548.4 L163.0 550.0 L164.3 551.6 L165.6 553.1 L167.1 554.4 L168.6 555.8 L170.2 557.0 L171.8 558.1 L173.5 559.2 L175.2 560.1 L177.1 560.9 L178.9 561.4 L180.9 561.7 L182.8 561.6 L184.8 561.3 L186.7 560.9 L188.6 560.4 L190.6 559.9 L192.5 559.4 L194.5 558.9 L196.4 558.4 L198.4 557.9 L200.3 557.5 L202.3 557.0 L204.2 556.5 L206.1 556.0 L208.1 555.5 L210.0 555.0 L212.0 554.5 L213.9 554.0 L215.9 553.5 L217.8 553.0 L219.8 552.5 L221.7 552.1 L223.6 551.6 L225.6 551.1 L227.5 550.6 L229.5 550.1 L231.4 549.6 L233.4 549.1 L235.3 548.6 L237.3 548.1 L239.2 547.6 L241.1 547.2 L243.1 546.7 L245.0 546.2 L247.0 545.7 L248.9 545.3 L250.9 544.8 L252.8 544.3 L254.8 543.9 L256.7 543.4 L258.7 543.0 L260.7 542.5 L262.6 542.1 L264.6 541.6 L266.5 541.2 L268.5 540.8 L270.4 540.3 L272.4 539.9 L274.4 539.4 L276.3 539.0 L278.3 538.6 L280.2 538.1 L282.2 537.7 L284.1 537.2 L286.1 536.8 L288.0 536.3 L290.0 535.9 L291.9 535.4 L293.9 535.0 L295.9 534.5 L297.8 534.0 L299.8 533.6 L301.7 533.1 L303.7 532.7 L305.6 532.2 L307.6 531.7 L309.5 531.3 L311.5 530.8 L313.4 530.3 L315.4 529.8 L317.3 529.4 L319.3 528.9 L321.2 528.4 L323.1 527.9 L325.1 527.5 L327.0 527.0 L329.0 526.5 L330.9 526.0 L332.9 525.6 L334.8 525.1 L336.8 524.6 L338.7 524.1 L340.7 523.7 L342.6 523.2 L344.6 522.7 L346.5 522.2 L348.5 521.7 L350.4 521.3 L352.4 520.8 L354.3 520.3 L356.3 519.8 L358.2 519.3 L360.2 518.9 L362.1 518.4 L364.0 517.9 L366.0 517.4 L367.9 517.0 L369.9 516.5 L371.8 516.0 L373.8 515.5 L375.7 515.0 L377.7 514.6 L379.6 514.1 L381.6 513.6 L383.5 513.1 L385.5 512.6 L387.4 512.2 L389.4 511.7 L391.3 511.2 L393.3 510.7 L395.2 510.2 L397.1 509.8 L399.1 509.3 L401.0 508.8 L403.0 508.3 L404.9 507.8 L406.9 507.3 L408.8 506.9 L410.8 506.4 L412.7 505.9 L414.7 505.4 L416.6 504.9 L418.5 504.4 L420.5 503.9 L422.4 503.4 L424.4 502.9 L426.3 502.4 L428.3 501.9 L430.2 501.4 L432.1 500.9 L434.1 500.4 L436.0 499.9 L438.0 499.4 L439.9 498.9 L441.9 498.4 L443.8 497.9 L445.7 497.4 L447.7 496.9 L449.6 496.4 L451.6 495.9 L453.5 495.4 L455.4 494.9 L457.4 494.3 L459.3 493.8 L461.2 493.3 L463.2 492.8 L465.1 492.3 L467.1 491.8 L469.0 491.3 L470.9 490.7 L472.9 490.2 L474.8 489.7 L476.7 489.2 L478.7 488.7 L480.6 488.2 L482.6 487.6 L484.5 487.1 L486.4 486.6 L488.4 486.1 L490.3 485.6 L492.2 485.1 L494.2 484.5 L496.1 484.0 L498.1 483.5 L500.0 483.0 L500.0 483.0" stroke-width="2.6"/>
<path d="M152.0 560.0 L152.0 562.0 L152.1 564.1 L152.2 566.1 L152.4 568.0 L152.9 569.9 L153.8 571.7 L155.0 573.1 L156.5 574.2 L158.3 574.9 L160.2 575.2 L162.2 575.4 L164.2 575.4 L166.3 575.3 L168.3 575.1 L170.3 574.9 L172.3 574.7 L174.3 574.4 L176.3 574.1 L178.3 573.8 L180.3 573.4 L182.3 573.0 L184.3 572.5 L186.3 572.1 L188.2 571.6 L190.2 571.1 L192.2 570.6 L194.1 570.1 L196.1 569.5 L198.0 569.0 L200.0 568.5 L200.0 568.5" stroke-width="4.4"/>
<path d="M190.0 571.0 L191.9 570.4 L193.8 569.9 L195.8 569.3 L197.7 568.8 L199.6 568.2 L201.5 567.7 L203.4 567.1 L205.4 566.6 L207.3 566.0 L209.2 565.4 L211.1 564.9 L213.1 564.3 L215.0 563.8 L216.9 563.2 L218.8 562.7 L220.7 562.1 L222.7 561.6 L224.6 561.0 L226.5 560.5 L228.4 559.9 L230.4 559.4 L232.3 558.8 L234.2 558.3 L236.1 557.8 L238.1 557.2 L240.0 556.7 L241.9 556.2 L243.9 555.6 L245.8 555.1 L247.7 554.6 L249.7 554.1 L251.6 553.6 L253.5 553.1 L255.5 552.6 L257.4 552.2 L259.4 551.7 L261.3 551.2 L263.3 550.8 L265.2 550.3 L267.2 549.9 L269.1 549.5 L271.1 549.0 L273.0 548.6 L275.0 548.2 L276.9 547.8 L278.9 547.4 L280.8 546.9 L282.8 546.5 L284.7 546.1 L286.7 545.6 L288.6 545.2 L290.6 544.8 L292.5 544.3 L294.5 543.8 L296.4 543.4 L298.4 542.9 L300.3 542.4 L302.3 541.9 L304.2 541.4 L306.1 540.9 L308.1 540.4 L310.0 539.9 L311.9 539.4 L313.9 538.9 L315.8 538.4 L317.7 537.9 L319.7 537.4 L321.6 536.8 L323.5 536.3 L325.5 535.8 L327.4 535.3 L329.3 534.8 L331.3 534.3 L333.2 533.7 L335.1 533.2 L337.1 532.7 L339.0 532.2 L340.9 531.7 L342.9 531.2 L344.8 530.7 L346.8 530.2 L348.7 529.8 L350.6 529.3 L352.6 528.8 L354.5 528.3 L356.5 527.9 L358.4 527.4 L360.4 527.0 L362.3 526.5 L364.3 526.1 L366.2 525.7 L368.2 525.2 L370.1 524.8 L372.1 524.4 L374.0 524.0 L376.0 523.6 L378.0 523.2 L379.9 522.8 L381.9 522.4 L383.9 522.0 L385.8 521.6 L387.8 521.2 L389.7 520.9 L391.7 520.5 L393.7 520.1 L395.6 519.7 L397.6 519.3 L399.5 518.9 L401.5 518.5 L403.5 518.1 L405.4 517.6 L407.4 517.2 L409.3 516.8 L411.3 516.4 L413.2 515.9 L415.2 515.5 L417.1 515.1 L419.1 514.6 L421.0 514.2 L423.0 513.7 L424.9 513.2 L426.9 512.8 L428.8 512.3 L430.7 511.8 L432.7 511.3 L434.6 510.8 L436.6 510.3 L438.5 509.8 L440.4 509.3 L442.4 508.8 L444.3 508.3 L446.2 507.8 L448.2 507.3 L450.1 506.8 L452.0 506.2 L454.0 505.7 L455.9 505.2 L457.8 504.7 L459.8 504.1 L461.7 503.6 L463.6 503.1 L465.5 502.6 L467.5 502.0 L469.4 501.5 L471.3 501.0 L473.3 500.4 L475.2 499.9 L477.1 499.4 L479.0 498.8 L481.0 498.3 L482.9 497.8 L484.8 497.2 L486.7 496.7 L488.7 496.1 L490.6 495.6 L492.5 495.1 L494.4 494.5 L496.4 494.0 L498.3 493.4 L500.2 492.9 L502.1 492.4 L504.1 491.8 L506.0 491.3 L507.9 490.7 L509.9 490.2 L511.8 489.7 L513.7 489.1 L515.6 488.6 L517.6 488.0 L519.5 487.5 L521.4 487.0 L523.3 486.4 L525.3 485.9 L527.2 485.3 L529.1 484.8 L531.0 484.3 L532.0 484.0" stroke-width="2.6"/>
<path d="M140.0 582.0 L141.7 583.0 L143.5 583.9 L145.3 584.8 L147.1 585.5 L149.0 586.2 L151.0 586.6 L152.9 587.0 L154.9 587.1 L156.9 587.1 L158.9 587.0 L160.9 586.8 L162.9 586.6 L164.8 586.3 L166.8 586.0 L168.8 585.7 L170.8 585.3 L172.7 584.9 L174.7 584.5 L176.6 584.1 L178.6 583.7 L180.5 583.3 L182.5 582.8 L184.4 582.4 L186.4 581.9 L188.3 581.4 L190.3 580.9 L192.2 580.4 L194.2 579.9 L196.1 579.4 L198.0 578.9 L199.9 578.3 L201.9 577.8 L203.8 577.2 L205.7 576.7 L207.6 576.1 L209.6 575.6 L211.5 575.0 L213.4 574.5 L215.3 573.9 L217.3 573.4 L219.2 572.8 L221.1 572.3 L223.0 571.7 L225.0 571.2 L226.9 570.6 L228.8 570.1 L230.7 569.5 L232.7 569.0 L234.6 568.5 L236.5 567.9 L238.5 567.4 L240.4 566.9 L242.3 566.4 L244.3 565.9 L246.2 565.4 L248.1 564.9 L250.1 564.4 L252.0 563.9 L254.0 563.4 L255.9 562.9 L257.9 562.5 L259.8 562.0 L261.7 561.5 L263.7 561.1 L265.6 560.6 L267.6 560.1 L269.5 559.7 L271.5 559.2 L273.4 558.8 L275.4 558.3 L277.3 557.9 L279.3 557.4 L281.2 557.0 L283.2 556.5 L285.1 556.1 L287.1 555.6 L289.0 555.2 L291.0 554.7 L292.9 554.3 L294.9 553.8 L296.8 553.4 L298.8 552.9 L300.7 552.5 L302.7 552.0 L304.6 551.6 L306.6 551.1 L308.5 550.7 L310.5 550.2 L312.4 549.8 L314.4 549.3 L316.3 548.8 L318.3 548.4 L320.2 547.9 L322.2 547.5 L324.1 547.0 L326.1 546.5 L328.0 546.0 L330.0 545.5 L331.9 545.1 L333.8 544.6 L335.8 544.1 L337.7 543.6 L339.7 543.1 L341.6 542.6 L343.5 542.1 L345.5 541.6 L347.4 541.1 L349.3 540.5 L351.3 540.0 L353.2 539.5 L355.1 539.0 L357.1 538.5 L359.0 537.9 L360.9 537.4 L362.9 536.9 L364.8 536.3 L366.7 535.8 L368.6 535.3 L370.6 534.7 L372.5 534.2 L374.4 533.7 L376.4 533.1 L378.3 532.6 L380.2 532.0 L382.1 531.5 L384.1 530.9 L386.0 530.4 L387.9 529.8 L389.8 529.3 L391.8 528.7 L393.7 528.2 L395.6 527.6 L397.5 527.1 L399.4 526.5 L401.4 526.0 L403.3 525.4 L405.2 524.8 L407.1 524.3 L409.1 523.7 L411.0 523.2 L412.9 522.6 L414.8 522.0 L416.7 521.5 L418.7 520.9 L420.6 520.4 L422.5 519.8 L424.4 519.2 L426.3 518.7 L428.3 518.1 L430.2 517.5 L432.1 517.0 L434.0 516.4 L435.9 515.8 L437.9 515.3 L439.8 514.7 L441.7 514.1 L443.6 513.5 L445.5 513.0 L447.4 512.4 L449.4 511.8 L451.3 511.2 L453.2 510.6 L455.1 510.0 L457.0 509.4 L458.9 508.8 L460.8 508.3 L462.8 507.7 L464.7 507.1 L466.6 506.5 L468.5 505.9 L470.4 505.3 L472.3 504.7 L474.2 504.1 L476.1 503.5 L478.0 502.9 L479.9 502.3 L481.9 501.7 L483.8 501.1 L485.7 500.5 L487.6 499.9 L489.5 499.3 L491.4 498.7 L493.3 498.1 L495.2 497.5 L497.1 496.9 L499.0 496.3 L500.0 496.0" stroke-width="2.6"/>
<path d="M86.0 337.0 L85.9 339.0 L85.9 341.0 L85.8 343.0 L85.8 345.0 L85.7 347.0 L85.6 349.0 L85.6 351.0 L85.5 353.0 L85.4 355.0 L85.4 357.0 L85.3 359.0 L85.3 361.0 L85.2 363.0 L85.1 365.0 L85.1 367.0 L85.0 369.0 L84.9 371.0 L84.9 373.0 L84.8 375.0 L84.8 377.0 L84.7 379.0 L84.6 381.0 L84.6 383.0 L84.5 385.0 L84.4 387.0 L84.4 389.0 L84.3 391.0 L84.2 393.0 L84.2 395.0 L84.1 397.0 L84.0 399.0 L84.0 401.0 L83.9 403.0 L83.8 405.0 L83.7 407.0 L83.7 409.0 L83.6 411.0 L83.5 413.0 L83.4 415.0 L83.4 417.0 L83.3 419.0 L83.2 421.0 L83.1 423.0 L83.0 425.0 L83.0 427.0 L82.9 429.0 L82.8 431.0 L82.7 433.0 L82.6 435.0 L82.5 437.0 L82.5 439.0 L82.4 441.0 L82.3 443.0 L82.2 445.0 L82.1 447.0 L82.0 449.0 L82.0 451.0 L81.9 453.0 L81.8 455.0 L81.7 457.0 L81.6 459.0 L81.6 461.0 L81.5 463.0 L81.4 465.0 L81.3 467.0 L81.2 469.0 L81.1 471.0 L81.1 473.0 L81.0 475.0 L80.9 477.0 L80.8 479.0 L80.7 481.0 L80.7 483.0 L80.6 485.0 L80.5 487.0 L80.4 489.0 L80.3 491.0 L80.3 493.0 L80.2 495.0 L80.1 497.0 L80.0 499.0 L80.0 501.0 L79.9 503.0 L79.8 505.0 L79.7 507.0 L79.7 509.0 L79.6 511.0 L79.5 513.0 L79.4 515.0 L79.3 517.0 L79.3 519.0 L79.2 521.0 L79.1 523.0 L79.0 525.0 L79.0 527.0 L78.9 529.0 L78.8 531.0 L78.7 533.0 L78.7 535.0 L78.6 537.0 L78.5 539.0 L78.4 541.0 L78.3 543.0 L78.3 545.0 L78.2 547.0 L78.1 549.0 L78.0 551.0 L78.0 553.0 L77.9 555.0 L77.8 557.0 L77.7 559.0 L77.7 561.0 L77.6 563.0 L77.5 565.0 L77.5 567.0 L77.4 569.0 L77.3 571.0 L77.2 573.0 L77.2 575.0 L77.1 577.0 L77.0 579.0 L77.0 581.0 L76.9 583.0 L76.8 585.0 L76.8 587.0 L76.7 589.0 L76.6 591.0 L76.6 593.0 L76.5 595.0 L76.5 597.0 L76.4 599.0 L76.3 601.0 L76.3 603.0 L76.2 605.0 L76.1 607.0 L76.1 609.0 L76.0 611.0 L76.0 613.0 L75.9 615.0 L75.9 617.0 L75.8 619.0 L75.7 621.0 L75.7 623.0 L75.6 625.0 L75.6 627.0 L75.5 629.0 L75.5 631.0 L75.4 633.0 L75.3 635.0 L75.3 637.0 L75.2 639.0 L75.2 641.0 L75.1 643.0 L75.1 645.0 L75.0 647.0 L75.0 647.0" stroke-width="2.6"/>
<path d="M90.0 332.0 L92.0 331.9 L94.0 331.7 L96.0 331.6 L98.0 331.4 L100.0 331.4 L102.0 331.4 L104.0 331.7 L105.8 332.2 L107.5 333.1 L108.8 334.4 L109.8 336.0 L110.6 337.8 L111.2 339.6 L111.9 341.6 L112.5 343.5 L113.0 345.4 L113.6 347.3 L114.2 349.2 L114.9 351.1 L115.9 352.8 L117.1 354.2 L118.6 355.2 L120.4 355.8 L122.3 356.2 L124.3 356.3 L126.3 356.5 L128.3 356.9 L130.2 357.4 L132.0 358.2 L133.8 359.1 L135.5 360.1 L137.2 361.2 L138.9 362.2 L140.7 363.1 L142.5 363.9 L144.4 364.5 L146.3 364.8 L148.3 364.8 L150.3 364.6 L152.3 364.2 L154.2 363.7 L156.1 363.2 L158.1 362.6 L160.0 362.0 L160.0 362.0" stroke-width="2.6"/>
<path d="M115.0 357.0 L115.0 359.0 L115.0 361.0 L115.0 363.0 L115.0 365.0 L115.0 367.0 L115.1 369.0 L115.1 371.0 L115.1 373.0 L115.1 375.0 L115.1 377.0 L115.1 379.0 L115.1 381.0 L115.1 383.0 L115.0 385.0 L115.0 387.0 L115.0 389.0 L115.0 391.0 L114.9 393.0 L114.9 395.0 L114.9 397.0 L114.8 399.0 L114.8 401.0 L114.7 403.0 L114.7 405.0 L114.6 407.0 L114.6 409.0 L114.5 411.0 L114.4 413.0 L114.4 415.0 L114.3 417.0 L114.3 419.0 L114.2 421.0 L114.1 423.0 L114.1 425.0 L114.0 427.0 L113.9 429.0 L113.9 431.0 L113.8 433.0 L113.7 435.0 L113.7 437.0 L113.6 439.0 L113.5 441.0 L113.5 443.0 L113.4 445.0 L113.3 447.0 L113.2 449.0 L113.2 451.0 L113.1 453.0 L113.0 455.0 L112.9 457.0 L112.9 459.0 L112.8 461.0 L112.7 463.0 L112.6 465.0 L112.5 467.0 L112.5 469.0 L112.4 471.0 L112.3 473.0 L112.2 475.0 L112.1 477.0 L112.0 479.0 L111.9 481.0 L111.9 483.0 L111.8 485.0 L111.6 487.0 L111.5 489.0 L111.4 491.0 L111.3 493.0 L111.2 495.0 L111.0 497.0 L110.9 499.0 L110.7 501.0 L110.6 503.0 L110.5 505.0 L110.3 507.0 L110.2 509.0 L110.0 511.0 L109.9 513.0 L109.8 515.0 L109.6 517.0 L109.5 519.0 L109.4 521.0 L109.3 523.0 L109.2 525.0 L109.1 527.0 L109.0 529.0 L109.0 531.0 L108.9 533.0 L108.8 535.0 L108.8 537.0 L108.7 539.0 L108.7 541.0 L108.6 543.0 L108.6 545.0 L108.5 547.0 L108.5 549.0 L108.4 551.0 L108.4 553.0 L108.3 555.0 L108.3 557.0 L108.3 559.0 L108.2 561.0 L108.2 563.0 L108.1 565.0 L108.1 567.0 L108.1 569.0 L108.0 571.0 L108.0 573.0 L108.0 575.0 L107.9 577.0 L107.9 579.0 L107.9 581.0 L107.8 583.0 L107.8 585.0 L107.8 587.0 L107.7 589.0 L107.7 591.0 L107.7 593.0 L107.6 595.0 L107.6 597.0 L107.6 599.0 L107.5 601.0 L107.5 603.0 L107.5 603.0" stroke-width="2.6"/>
<path d="M130.0 362.0 L130.0 364.0 L130.1 366.0 L130.2 368.0 L130.2 370.0 L130.3 372.0 L130.3 374.0 L130.4 376.0 L130.4 378.0 L130.5 380.0 L130.5 382.0 L130.5 384.0 L130.5 386.0 L130.5 388.0 L130.5 390.0 L130.5 392.0 L130.5 394.0 L130.5 396.0 L130.4 398.0 L130.4 400.0 L130.3 402.0 L130.3 404.0 L130.2 406.0 L130.2 408.0 L130.1 410.0 L130.0 412.0 L129.9 414.0 L129.9 416.0 L129.8 418.0 L129.7 420.0 L129.6 422.0 L129.6 424.0 L129.5 426.0 L129.4 428.0 L129.3 430.0 L129.2 432.0 L129.1 434.0 L129.0 436.0 L129.0 438.0 L128.9 440.0 L128.8 442.0 L128.7 444.0 L128.6 446.0 L128.5 448.0 L128.4 450.0 L128.3 452.0 L128.3 454.0 L128.2 456.0 L128.1 458.0 L128.0 460.0 L127.9 462.0 L127.8 464.0 L127.7 466.0 L127.7 468.0 L127.6 470.0 L127.5 472.0 L127.4 474.0 L127.3 476.0 L127.3 478.0 L127.2 480.0 L127.1 482.0 L127.1 484.0 L127.0 486.0 L126.9 488.0 L126.9 490.0 L126.8 492.0 L126.7 494.0 L126.7 496.0 L126.6 498.0 L126.6 500.0 L126.5 502.0 L126.4 504.0 L126.4 506.0 L126.3 508.0 L126.3 510.0 L126.2 512.0 L126.2 514.0 L126.1 516.0 L126.1 518.0 L126.0 520.0 L126.0 522.0 L125.9 524.0 L125.9 526.0 L125.8 528.0 L125.8 530.0 L125.7 532.0 L125.7 534.0 L125.6 536.0 L125.6 538.0 L125.5 540.0 L125.4 542.0 L125.4 544.0 L125.3 546.0 L125.3 548.0 L125.2 550.0 L125.2 552.0 L125.1 554.0 L125.1 556.0 L125.0 558.0 L125.0 560.0 L124.9 562.0 L124.9 564.0 L124.8 566.0 L124.8 568.0 L124.7 570.0 L124.7 572.0 L124.6 574.0 L124.6 576.0 L124.5 578.0 L124.5 580.0 L124.4 582.0 L124.4 584.0 L124.3 586.0 L124.3 588.0 L124.2 590.0 L124.2 592.0 L124.1 594.0 L124.1 596.0 L124.0 598.0 L124.0 600.0 L124.0 600.0" stroke-width="2.6"/>
<path d="M145.0 367.0 L143.0 447.0" stroke-width="2.6"/>
<path d="M142.0 482.0 L141.9 484.0 L141.8 486.0 L141.7 488.0 L141.6 490.0 L141.5 492.0 L141.4 494.0 L141.3 496.1 L141.2 498.1 L141.1 500.1 L141.0 502.1 L140.9 504.1 L140.8 506.1 L140.8 508.1 L140.7 510.1 L140.6 512.1 L140.5 514.1 L140.4 516.1 L140.4 518.1 L140.3 520.1 L140.2 522.2 L140.2 524.2 L140.1 526.2 L140.0 528.2 L140.0 530.2 L140.0 532.2 L140.0 534.2 L140.0 536.2 L139.9 538.2 L140.0 540.2 L140.0 542.2 L140.0 544.3 L140.0 546.3 L140.0 548.3 L140.1 550.3 L140.1 552.3 L140.1 554.3 L140.2 556.3 L140.2 558.3 L140.2 560.3 L140.2 562.3 L140.3 564.3 L140.3 566.4 L140.3 568.4 L140.3 570.4 L140.3 572.4 L140.3 574.4 L140.2 576.4 L140.2 578.4 L140.1 580.4 L139.9 582.4 L139.7 584.4 L139.3 586.4 L138.7 588.2 L137.9 590.0 L136.9 591.6 L135.7 593.2 L134.5 594.8 L133.3 596.4 L132.1 598.0 L130.8 599.6 L129.6 601.2 L128.3 602.7 L127.0 604.3 L125.7 605.8 L124.4 607.3 L123.0 608.8 L121.7 610.3 L120.3 611.8 L118.9 613.1 L117.3 614.2 L115.6 615.0 L113.9 615.3 L112.0 615.3 L110.2 615.2 L108.4 615.5 L106.7 616.2 L105.1 617.3 L103.6 618.5 L102.1 620.0 L100.8 621.4 L99.4 622.9 L98.1 624.4 L96.8 625.9 L95.5 627.5 L94.2 629.0 L92.9 630.5 L91.6 632.1 L90.3 633.6 L89.0 635.2 L87.8 636.7 L86.5 638.3 L85.2 639.9 L84.0 641.4 L82.7 643.0 L81.5 644.6 L80.2 646.1 L78.9 647.7 L77.6 649.2 L77.0 650.0" stroke-width="2.6"/>
<path d="M206.0 820.0 L207.9 819.3 L209.7 818.5 L211.6 817.8 L213.5 817.1 L215.3 816.4 L217.2 815.6 L219.1 814.9 L220.9 814.2 L222.8 813.5 L224.7 812.7 L226.5 812.0 L228.4 811.3 L230.3 810.5 L232.1 809.8 L234.0 809.1 L235.9 808.4 L237.7 807.6 L239.6 806.9 L241.5 806.2 L243.3 805.4 L245.2 804.7 L247.1 804.0 L248.9 803.3 L250.8 802.5 L252.7 801.8 L254.5 801.1 L256.4 800.4 L258.3 799.6 L260.1 798.9 L262.0 798.2 L263.8 797.4 L265.7 796.7 L267.6 796.0 L269.4 795.3 L271.3 794.5 L273.2 793.8 L275.0 793.1 L276.9 792.4 L278.8 791.6 L280.6 790.9 L282.5 790.2 L284.4 789.5 L286.2 788.7 L288.1 788.0 L290.0 787.3 L291.8 786.5 L293.7 785.8 L295.6 785.1 L297.5 784.4 L299.3 783.6 L301.2 782.9 L303.1 782.2 L304.9 781.5 L306.8 780.8 L308.7 780.0 L310.5 779.3 L312.4 778.6 L314.3 777.9 L316.1 777.1 L318.0 776.4 L319.9 775.7 L321.7 775.0 L323.6 774.3 L325.5 773.5 L327.3 772.8 L329.2 772.1 L331.1 771.4 L333.0 770.7 L334.8 770.0 L336.7 769.2 L338.6 768.5 L340.4 767.8 L342.3 767.1 L344.2 766.4 L346.1 765.7 L347.9 765.0 L349.8 764.3 L351.7 763.6 L353.6 762.9 L355.5 762.2 L357.3 761.5 L359.2 760.9 L361.1 760.2 L363.0 759.5 L364.9 758.8 L366.8 758.1 L368.6 757.4 L370.5 756.8 L372.4 756.1 L374.3 755.4 L376.2 754.7 L378.0 754.0 L379.9 753.3 L381.8 752.6 L383.7 751.9 L385.6 751.2 L387.4 750.6 L389.3 749.9 L391.2 749.1 L393.1 748.4 L394.9 747.7 L396.8 747.0 L398.7 746.3 L400.6 745.6 L402.4 744.9 L404.3 744.2 L406.2 743.5 L408.1 742.8 L409.9 742.1 L411.8 741.4 L413.7 740.7 L415.6 739.9 L417.4 739.2 L419.3 738.5 L421.2 737.8 L423.0 737.1 L424.9 736.4 L426.8 735.7 L428.7 735.0 L430.5 734.2 L432.4 733.5 L434.3 732.8 L436.1 732.1 L438.0 731.4 L439.9 730.7 L441.8 730.0 L443.6 729.3 L445.5 728.6 L447.4 727.9 L449.3 727.1 L451.1 726.4 L453.0 725.7 L454.9 725.0 L456.7 724.4 L458.5 723.8 L460.2 723.3 L461.8 723.1 L463.3 723.3 L464.9 723.8 L466.6 724.6 L468.2 725.6 L469.8 726.8 L471.1 728.2 L472.3 729.8 L473.5 731.4 L474.5 733.1 L475.0 734.0" stroke-width="3.6"/>
<path d="M556.0 705.0 L556.4 703.0 L556.8 701.1 L557.2 699.1 L557.8 697.2 L558.4 695.3 L559.2 693.5 L560.2 691.8 L561.3 690.2 L562.6 688.7 L564.1 687.4 L565.7 686.2 L567.3 685.1 L569.1 684.0 L570.8 683.1 L572.6 682.2 L574.4 681.4 L576.2 680.6 L578.1 679.8 L580.0 679.1 L581.9 678.5 L583.8 677.8 L585.7 677.3 L587.6 676.6 L589.5 676.0 L591.3 675.3 L593.2 674.6 L595.1 673.9 L597.0 673.2 L598.8 672.5 L600.7 671.7 L602.5 671.0 L604.4 670.3 L606.3 669.5 L608.1 668.8 L610.0 668.1 L611.8 667.3 L613.7 666.6 L615.6 665.8 L617.4 665.1 L619.3 664.4 L621.1 663.6 L623.0 662.9 L624.9 662.1 L626.7 661.4 L628.6 660.6 L630.4 659.9 L632.3 659.2 L634.1 658.4 L636.0 657.7 L637.9 656.9 L639.7 656.2 L641.6 655.4 L643.4 654.7 L645.3 653.9 L647.1 653.2 L649.0 652.5 L650.9 651.7 L652.7 651.0 L654.6 650.2 L656.4 649.5 L658.3 648.7 L660.1 648.0 L662.0 647.2 L663.9 646.5 L665.7 645.7 L667.6 645.0 L669.4 644.3 L671.3 643.5 L673.1 642.8 L675.0 642.0 L676.9 641.3 L678.7 640.5 L680.6 639.8 L682.4 639.0 L684.3 638.3 L686.1 637.6 L688.0 636.8 L689.9 636.1 L691.7 635.3 L693.6 634.6 L695.4 633.8 L697.3 633.1 L699.1 632.3 L701.0 631.6 L702.9 630.9 L704.7 630.1 L706.6 629.4 L708.4 628.6 L710.3 627.9 L712.2 627.2 L714.0 626.4 L715.9 625.7 L717.7 625.0 L719.6 624.2 L721.5 623.5 L723.3 622.8 L725.2 622.1 L727.1 621.4 L728.0 621.0" stroke-width="3.6"/>
<path d="M728.0 621.0 L733.0 622.5 L738.0 627.0 L744.0 633.0" stroke-width="3.6"/>
<path d="M744.0 633.0 L745.7 632.0 L747.4 630.9 L749.2 630.0 L751.0 629.0 L752.8 628.3 L754.6 627.8 L756.5 627.6 L758.3 628.0 L760.1 628.7 L761.6 629.9 L763.0 631.2 L764.1 632.8 L765.0 634.6 L765.5 636.4 L765.6 638.3 L765.3 640.1 L764.4 641.7 L763.2 643.2 L761.7 644.5 L760.2 645.7 L758.5 646.8 L756.7 647.7 L754.9 648.6 L754.0 649.0" stroke-width="5.2"/>
<path d="M188.0 827.0 L190.0 827.1 L192.0 827.2 L194.0 827.3 L196.0 827.4 L198.0 827.5 L200.0 827.6 L202.0 827.7 L204.0 827.7 L206.0 827.7 L208.0 827.7 L210.0 827.7 L212.0 827.6 L214.0 827.5 L216.0 827.4 L218.0 827.3 L220.0 827.1 L222.0 826.9 L224.0 826.6 L225.9 826.2 L227.9 825.8 L229.8 825.2 L231.7 824.7 L233.6 824.1 L235.5 823.5 L237.4 822.8 L239.3 822.2 L241.2 821.6 L243.1 820.9 L245.0 820.3 L246.9 819.6 L248.8 819.0 L250.7 818.3 L252.6 817.6 L254.5 816.9 L256.4 816.3 L258.3 815.6 L260.1 814.9 L262.0 814.2 L263.9 813.5 L265.8 812.9 L267.7 812.2 L269.5 811.5 L271.4 810.8 L273.3 810.1 L275.2 809.4 L277.1 808.7 L278.9 808.0 L280.8 807.3 L282.7 806.6 L284.6 806.0 L286.5 805.3 L288.3 804.6 L290.2 803.9 L292.1 803.2 L294.0 802.5 L295.9 801.8 L297.7 801.1 L299.6 800.4 L301.5 799.7 L303.4 799.0 L305.2 798.3 L307.1 797.6 L309.0 796.9 L310.9 796.2 L312.8 795.5 L314.6 794.8 L316.5 794.1 L318.4 793.4 L320.3 792.8 L322.2 792.1 L324.0 791.4 L325.9 790.7 L327.8 790.0 L329.7 789.3 L331.6 788.6 L333.5 788.0 L335.3 787.3 L337.2 786.6 L339.1 785.9 L341.0 785.2 L342.9 784.6 L344.8 783.9 L346.7 783.2 L348.5 782.5 L350.4 781.9 L352.3 781.2 L354.2 780.5 L356.1 779.9 L358.0 779.2 L359.9 778.5 L361.7 777.8 L363.6 777.2 L365.5 776.5 L367.4 775.8 L369.3 775.1 L371.2 774.4 L373.0 773.8 L374.9 773.1 L376.8 772.4 L378.7 771.7 L380.6 771.0 L382.5 770.3 L384.3 769.7 L386.2 769.0 L388.1 768.3 L390.0 767.6 L391.9 766.9 L393.8 766.2 L395.6 765.5 L397.5 764.9 L399.4 764.2 L401.3 763.5 L403.2 762.8 L405.1 762.1 L406.9 761.4 L408.8 760.8 L410.7 760.1 L412.6 759.4 L414.5 758.7 L416.3 758.0 L418.2 757.3 L420.1 756.6 L422.0 756.0 L423.9 755.3 L425.8 754.6 L427.6 753.9 L429.5 753.2 L431.4 752.5 L433.3 751.8 L435.2 751.2 L437.1 750.5 L438.9 749.8 L440.8 749.1 L442.7 748.4 L444.6 747.7 L446.5 747.0 L448.3 746.4 L450.2 745.7 L452.1 745.0 L454.0 744.3 L455.9 743.6 L457.8 742.9 L459.6 742.2 L461.5 741.6 L463.4 740.9 L465.3 740.2 L467.2 739.5 L469.0 738.8 L470.9 738.1 L472.8 737.4 L474.7 736.8 L476.6 736.1 L478.5 735.4 L480.3 734.7 L482.2 734.0 L484.1 733.3 L486.0 732.6 L487.9 732.0 L489.7 731.3 L491.6 730.6 L493.5 729.9 L495.4 729.2 L497.3 728.5 L499.2 727.8 L501.0 727.1 L502.9 726.5 L504.8 725.8 L506.7 725.1 L508.6 724.4 L510.4 723.7 L512.3 723.0 L514.2 722.3 L516.1 721.7 L518.0 721.0 L519.9 720.3 L521.7 719.6 L523.6 718.9 L525.5 718.2 L527.4 717.5 L529.3 716.8 L531.1 716.2 L533.0 715.5 L534.9 714.8 L536.8 714.1 L538.7 713.4 L540.6 712.7 L542.4 712.0 L544.3 711.4 L546.2 710.7 L548.1 710.0 L550.0 709.3 L551.8 708.6 L553.7 707.9 L555.6 707.2 L557.5 706.5 L559.4 705.9 L561.2 705.2 L563.1 704.5 L565.0 703.8 L566.9 703.1 L568.8 702.4 L570.7 701.7 L572.5 701.0 L574.4 700.4 L576.3 699.7 L578.2 699.0 L580.1 698.3 L581.9 697.6 L583.8 696.9 L585.7 696.2 L587.6 695.5 L589.5 694.9 L591.3 694.2 L593.2 693.5 L595.1 692.8 L597.0 692.1 L598.9 691.4 L600.8 690.7 L602.6 690.0 L604.5 689.3 L606.4 688.7 L608.3 688.0 L610.2 687.3 L612.0 686.6 L613.9 685.9 L615.8 685.2 L617.7 684.5 L619.6 683.8 L621.4 683.1 L623.3 682.4 L625.2 681.7 L627.1 681.0 L628.9 680.3 L630.8 679.6 L632.7 678.9 L634.6 678.2 L636.5 677.5 L638.3 676.8 L640.2 676.2 L642.1 675.5 L644.0 674.8 L645.8 674.1 L647.7 673.4 L649.6 672.7 L651.5 672.0 L653.4 671.3 L655.2 670.6 L657.1 669.9 L659.0 669.2 L660.9 668.5 L662.7 667.8 L664.6 667.1 L666.5 666.4 L668.4 665.7 L670.2 665.0 L672.1 664.3 L674.0 663.6 L675.9 662.9 L677.8 662.2 L679.6 661.5 L681.5 660.8 L683.4 660.1 L685.3 659.4 L687.1 658.7 L689.0 658.0 L690.9 657.3 L692.8 656.6 L694.6 655.9 L696.5 655.2 L698.4 654.5 L700.3 653.8 L702.2 653.1 L704.0 652.4 L705.9 651.7 L707.8 651.0 L709.7 650.3 L711.6 649.6 L713.4 648.9 L715.3 648.2 L717.2 647.6 L719.1 646.9 L721.0 646.2 L722.8 645.5 L724.7 644.8 L726.6 644.1 L728.5 643.5 L730.4 642.8 L732.3 642.1 L734.2 641.4 L736.0 640.8 L737.9 640.1 L739.8 639.4 L741.7 638.8 L743.6 638.1 L745.5 637.5 L747.4 636.9 L749.3 636.3 L751.2 635.7 L753.2 635.1 L755.1 634.6 L757.0 634.2 L758.8 634.1 L760.2 634.3 L761.3 635.0 L762.0 636.0 L762.0 636.0" stroke-width="3.6"/>
<path d="M192.0 838.0 L193.9 838.5 L195.9 839.0 L197.8 839.5 L199.8 840.0 L201.7 840.4 L203.7 840.8 L205.7 841.1 L207.6 841.3 L209.6 841.5 L211.6 841.7 L213.6 841.9 L215.5 842.0 L217.5 841.9 L219.5 841.7 L221.4 841.2 L223.3 840.7 L225.3 840.1 L227.2 839.5 L229.1 838.9 L231.0 838.3 L232.9 837.7 L234.8 837.1 L236.7 836.4 L238.6 835.8 L240.5 835.1 L242.3 834.4 L244.2 833.8 L246.1 833.1 L248.0 832.4 L249.9 831.7 L251.8 831.1 L253.6 830.4 L255.5 829.7 L257.4 829.0 L259.3 828.3 L261.2 827.6 L263.0 826.9 L264.9 826.2 L266.8 825.6 L268.7 824.9 L270.6 824.2 L272.4 823.5 L274.3 822.8 L276.2 822.1 L278.1 821.4 L280.0 820.7 L281.8 820.0 L283.7 819.3 L285.6 818.6 L287.5 817.9 L289.3 817.2 L291.2 816.5 L293.1 815.8 L295.0 815.1 L296.8 814.4 L298.7 813.7 L300.6 813.0 L302.5 812.3 L304.3 811.6 L306.2 810.9 L308.1 810.2 L310.0 809.5 L311.9 808.8 L313.7 808.1 L315.6 807.4 L317.5 806.7 L319.4 806.0 L321.2 805.3 L323.1 804.6 L325.0 803.9 L326.9 803.2 L328.7 802.6 L330.6 801.9 L332.5 801.2 L334.4 800.5 L336.3 799.8 L338.1 799.1 L340.0 798.4 L341.9 797.8 L343.8 797.1 L345.7 796.4 L347.6 795.7 L349.5 795.1 L351.3 794.4 L353.2 793.7 L355.1 793.1 L357.0 792.4 L358.9 791.8 L360.8 791.1 L362.7 790.5 L364.6 789.8 L366.5 789.2 L368.4 788.5 L370.3 787.8 L372.1 787.2 L374.0 786.5 L375.9 785.8 L377.8 785.2 L379.7 784.5 L381.6 783.8 L383.5 783.1 L385.3 782.5 L387.2 781.8 L389.1 781.1 L391.0 780.4 L392.9 779.8 L394.8 779.1 L396.7 778.4 L398.5 777.7 L400.4 777.1 L402.3 776.4 L404.2 775.7 L406.1 775.0 L408.0 774.3 L409.8 773.7 L411.7 773.0 L413.6 772.3 L415.5 771.6 L417.4 771.0 L419.3 770.3 L421.1 769.6 L423.0 768.9 L424.9 768.2 L426.8 767.6 L428.7 766.9 L430.6 766.2 L432.5 765.5 L434.3 764.9 L436.2 764.2 L438.1 763.5 L440.0 762.8 L441.9 762.2 L443.8 761.5 L445.6 760.8 L447.5 760.1 L449.4 759.4 L451.3 758.8 L453.2 758.1 L455.1 757.4 L456.9 756.7 L458.8 756.0 L460.7 755.4 L462.6 754.7 L464.5 754.0 L466.4 753.3 L468.2 752.7 L470.1 752.0 L472.0 751.3 L473.9 750.6 L475.8 749.9 L477.7 749.3 L479.5 748.6 L481.4 747.9 L483.3 747.2 L485.2 746.6 L487.1 745.9 L489.0 745.2 L490.8 744.5 L492.7 743.8 L494.6 743.2 L496.5 742.5 L498.4 741.8 L500.3 741.1 L502.1 740.4 L504.0 739.8 L505.9 739.1 L507.8 738.4 L509.7 737.7 L511.6 737.0 L513.4 736.4 L515.3 735.7 L517.2 735.0 L519.1 734.3 L521.0 733.6 L522.9 733.0 L524.7 732.3 L526.6 731.6 L528.5 730.9 L530.4 730.2 L532.3 729.6 L534.2 728.9 L536.0 728.2 L537.9 727.5 L539.8 726.8 L541.7 726.2 L543.6 725.5 L545.5 724.8 L547.3 724.1 L549.2 723.4 L551.1 722.8 L553.0 722.1 L554.9 721.4 L556.8 720.7 L558.6 720.0 L560.5 719.3 L562.4 718.7 L564.3 718.0 L566.2 717.3 L568.0 716.6 L569.9 715.9 L571.8 715.3 L573.7 714.6 L575.6 713.9 L577.5 713.2 L579.3 712.5 L581.2 711.8 L583.1 711.2 L585.0 710.5 L586.9 709.8 L588.7 709.1 L590.6 708.4 L592.5 707.7 L594.4 707.0 L596.3 706.4 L598.2 705.7 L600.0 705.0 L601.9 704.3 L603.8 703.6 L605.7 702.9 L607.6 702.2 L609.4 701.6 L611.3 700.9 L613.2 700.2 L615.1 699.5 L617.0 698.8 L618.8 698.1 L620.7 697.4 L622.6 696.7 L624.5 696.0 L626.4 695.3 L628.2 694.7 L630.1 694.0 L632.0 693.3 L633.9 692.6 L635.7 691.9 L637.6 691.2 L639.5 690.5 L641.4 689.8 L643.3 689.1 L645.1 688.4 L647.0 687.7 L648.9 687.0 L650.8 686.3 L652.7 685.7 L654.5 685.0 L656.4 684.3 L658.3 683.6 L660.2 682.9 L662.0 682.2 L663.9 681.5 L665.8 680.8 L667.7 680.1 L669.6 679.4 L671.4 678.7 L673.3 678.0 L675.2 677.3 L677.1 676.6 L678.9 675.9 L680.8 675.2 L682.7 674.5 L684.6 673.8 L686.4 673.1 L688.3 672.4 L690.2 671.7 L692.1 671.0 L694.0 670.3 L695.8 669.6 L697.7 668.9 L699.6 668.2 L701.5 667.5 L703.3 666.9 L705.2 666.2 L707.1 665.5 L709.0 664.8 L710.8 664.1 L712.7 663.4 L714.6 662.7 L716.5 662.0 L718.3 661.3 L720.2 660.6 L722.1 659.9 L724.0 659.2 L725.9 658.5 L727.7 657.8 L729.6 657.1 L731.5 656.4 L733.4 655.7 L735.2 655.0 L737.1 654.3 L739.0 653.6 L740.9 652.9 L742.7 652.2 L744.6 651.5 L746.5 650.8 L748.4 650.1 L750.2 649.4 L752.1 648.7 L754.0 648.0 L754.0 648.0" stroke-width="3.6"/>
<path d="M754.0 649.0 L754.4 651.0 L754.8 653.0 L755.2 655.0 L755.5 656.9 L755.8 658.9 L756.1 660.9 L756.3 663.0 L756.5 665.0 L756.7 667.0 L756.9 669.0 L757.1 671.0 L757.3 673.0 L757.5 675.0 L757.7 677.0 L757.9 679.0 L758.2 681.0 L758.5 683.0 L758.9 685.0 L759.3 687.0 L759.6 689.0 L759.8 691.0 L759.8 693.0 L759.6 695.0 L759.3 697.0 L758.9 698.9 L758.2 700.8 L757.3 702.5 L756.1 704.1 L754.7 705.5 L753.1 706.7 L751.4 707.8 L749.6 708.7 L747.8 709.6 L746.0 710.5 L746.0 710.5" stroke-width="4.8"/>
<path d="M746.0 710.5 L744.8 711.0 L743.3 711.6 L741.6 712.2 L739.8 712.9 L737.9 713.6 L736.0 714.3 L734.2 715.0 L732.3 715.7 L730.4 716.4 L728.5 717.1 L726.6 717.7 L724.7 718.4 L722.8 719.1 L720.9 719.8 L719.0 720.5 L717.2 721.2 L715.3 721.9 L713.4 722.6 L711.5 723.3 L709.6 724.0 L707.7 724.7 L705.8 725.3 L703.9 726.0 L702.0 726.7 L700.1 727.4 L698.3 728.1 L696.4 728.8 L694.5 729.5 L692.6 730.2 L690.7 730.9 L688.8 731.6 L686.9 732.3 L685.0 732.9 L683.1 733.6 L681.3 734.3 L679.4 735.0 L677.5 735.7 L675.6 736.4 L673.7 737.1 L671.8 737.8 L669.9 738.5 L668.0 739.2 L666.1 739.8 L664.2 740.5 L662.4 741.2 L660.5 741.9 L658.6 742.6 L656.7 743.3 L654.8 744.0 L652.9 744.7 L651.0 745.4 L649.1 746.1 L647.2 746.7 L645.4 747.4 L643.5 748.1 L641.6 748.8 L639.7 749.5 L637.8 750.2 L635.9 750.9 L634.0 751.6 L632.1 752.3 L630.2 753.0 L628.3 753.6 L626.5 754.3 L624.6 755.0 L622.7 755.7 L620.8 756.4 L618.9 757.1 L617.0 757.8 L615.1 758.5 L613.2 759.2 L611.3 759.9 L609.4 760.5 L607.6 761.2 L605.7 761.9 L603.8 762.6 L601.9 763.3 L600.0 764.0 L600.0 764.0" stroke-width="3.6"/>
<path d="M600.0 764.0 L598.1 764.8 L596.3 765.6 L594.4 766.4 L592.6 767.2 L590.7 768.0 L588.9 768.7 L587.0 769.5 L585.2 770.3 L583.3 771.1 L581.5 771.9 L579.6 772.7 L577.8 773.4 L575.9 774.2 L574.0 775.0 L572.2 775.7 L570.3 776.4 L568.4 777.1 L566.5 777.8 L564.6 778.3 L562.7 778.8 L560.7 778.9 L558.8 778.7 L557.0 778.2 L555.2 777.4 L553.5 776.4 L551.8 775.2 L550.2 774.0 L548.7 772.7 L547.2 771.3 L545.8 769.9 L544.5 768.4 L543.3 766.8 L542.3 765.1 L541.3 763.3 L540.4 761.5 L539.6 759.7 L538.8 757.9 L538.0 756.0 L538.0 756.0" stroke-width="3.6"/>
<path d="M516.0 784.0 L515.9 786.0 L515.8 788.0 L515.7 790.0 L515.3 791.9 L514.8 793.7 L513.9 795.4 L512.7 796.7 L511.2 797.8 L509.5 798.6 L507.7 799.3 L505.8 799.9 L503.9 800.6 L502.0 801.3 L500.1 801.9 L498.3 802.6 L496.4 803.3 L494.5 804.0 L492.6 804.7 L490.8 805.4 L488.9 806.1 L487.0 806.7 L485.1 807.4 L483.2 808.1 L481.3 808.8 L479.5 809.5 L477.6 810.1 L475.7 810.8 L473.8 811.5 L471.9 812.2 L470.1 812.9 L468.2 813.5 L466.3 814.2 L464.4 814.9 L462.5 815.6 L460.6 816.3 L458.8 816.9 L456.9 817.6 L455.0 818.3 L453.1 819.0 L451.2 819.6 L449.4 820.3 L447.5 821.0 L445.6 821.7 L443.7 822.3 L441.8 823.0 L439.9 823.7 L438.1 824.4 L436.2 825.0 L434.3 825.7 L432.4 826.4 L430.5 827.1 L428.6 827.7 L426.8 828.4 L424.9 829.1 L423.0 829.8 L421.1 830.4 L419.2 831.1 L417.3 831.8 L415.5 832.5 L413.6 833.1 L411.7 833.8 L409.8 834.5 L407.9 835.2 L406.0 835.8 L404.2 836.5 L402.3 837.2 L400.4 837.9 L398.5 838.5 L396.6 839.2 L394.7 839.9 L392.9 840.5 L391.0 841.2 L389.1 841.9 L387.2 842.5 L385.3 843.2 L383.4 843.9 L381.5 844.5 L379.6 845.2 L377.7 845.8 L375.8 846.5 L374.0 847.1 L372.1 847.8 L370.2 848.4 L368.3 849.1 L366.4 849.7 L364.5 850.4 L362.6 851.1 L360.7 851.7 L358.9 852.4 L357.0 853.1 L355.1 853.8 L353.2 854.5 L351.3 855.1 L349.5 855.8 L347.6 856.5 L345.7 857.2 L343.8 857.9 L341.9 858.6 L340.1 859.2 L338.2 859.9 L336.3 860.6 L334.4 861.3 L332.5 862.0 L330.7 862.7 L328.8 863.4 L326.9 864.1 L325.0 864.8 L323.2 865.5 L321.3 866.2 L319.4 866.9 L317.6 867.6 L315.7 868.3 L313.8 869.0 L312.0 869.8 L310.1 870.5 L308.2 871.2 L306.4 872.0 L304.5 872.7 L302.7 873.4 L300.8 874.2 L298.9 874.9 L297.1 875.7 L295.2 876.5 L293.4 877.2 L291.5 878.0 L289.7 878.7 L287.8 879.5 L286.0 880.2 L284.1 881.0 L282.3 881.7 L280.4 882.5 L278.5 883.2 L276.7 884.0 L274.8 884.7 L273.0 885.4 L271.1 886.2 L269.3 887.0 L267.4 887.7 L265.6 888.4 L263.7 889.0 L261.7 889.5 L259.8 889.8 L257.8 889.8 L255.8 889.7 L253.8 889.5 L251.9 889.2 L249.9 888.9 L247.9 888.7 L245.9 888.7 L243.9 888.8 L242.0 889.0 L240.0 889.4 L238.0 889.8 L236.1 890.2 L234.1 890.6 L232.2 891.0 L230.2 891.3 L228.2 891.7 L226.3 892.0 L224.3 892.4 L222.3 892.6 L220.3 892.8 L218.3 892.9 L216.3 892.9 L214.3 892.8 L212.3 892.6 L210.4 892.3 L208.4 891.9 L206.6 891.3 L204.8 890.5 L203.2 889.4 L201.7 888.1 L200.4 886.7 L199.2 885.1 L198.1 883.4 L197.1 881.7 L196.0 880.0 L196.0 880.0" stroke-width="3.6"/>
<path d="M472.0 752.0 L472.1 754.0 L472.2 756.0 L472.3 758.0 L472.4 760.0 L472.6 762.0 L472.7 764.0 L472.8 766.0 L473.0 768.0 L473.2 770.0 L473.4 772.0 L473.7 774.0 L474.1 776.0 L474.7 777.9 L475.3 779.8 L476.2 781.5 L477.3 783.1 L478.6 784.6 L480.2 785.8 L481.9 786.7 L483.7 787.5 L485.6 788.1 L487.6 788.5 L489.6 788.8 L491.6 788.9 L493.6 788.8 L495.5 788.6 L497.5 788.3 L499.4 787.7 L501.3 787.1 L503.2 786.4 L505.0 785.5 L506.8 784.6 L508.5 783.6 L510.2 782.5 L511.8 781.3 L513.4 780.0 L514.9 778.7 L516.4 777.4 L517.8 776.0 L519.3 774.6 L520.8 773.3 L522.2 771.9 L523.7 770.5 L525.1 769.1 L526.6 767.7 L528.0 766.3 L529.4 764.8 L530.8 763.4 L532.2 762.0 L533.6 760.5 L535.0 759.1 L536.4 757.7 L537.8 756.2 L539.2 754.7 L540.6 753.3 L541.9 751.8 L543.3 750.3 L544.7 748.9 L546.0 747.4 L547.3 745.9 L548.6 744.3 L549.9 742.8 L551.1 741.1 L552.1 739.4 L553.0 737.7 L553.7 735.8 L554.3 733.9 L554.7 731.9 L555.0 730.0 L555.3 728.0 L555.6 726.0 L555.8 724.0 L556.0 722.0 L556.0 722.0" stroke-width="5.0"/>
<path d="M486.0 752.0 L488.0 780.0" stroke-width="2.6"/>
<path d="M556.0 740.0 L558.0 772.0" stroke-width="2.6"/>
<path d="M191.0 826.0 L186.0 826.5 L184.5 834.0 L175.5 837.0 L173.5 850.0 L173.5 870.0 L175.0 882.5 L186.0 883.5 L192.0 881.0 L196.0 879.0" stroke-width="4.8"/>
<path d="M195.0 838.0 L197.0 879.0" stroke-width="2.6"/>
</g>
<!-- corner blob + arrow 1 -->
<path d="M53.5 654.5 L62 654.5 L72 657 L81 657.5 L81 661.5 L66 662.5 L61 668 L53.5 668 Z" fill="#000"/>
<path d="M74.6 657.5 L80 664 L86.5 674.5 L80 675.5 L77 679 L72.5 679 L69.5 675.5 L63.5 675 L69 664 Z" fill="#000"/>
<path d="M74.7 674 L74.8 721" stroke="#000" stroke-width="2.8" fill="none"/>
<!-- number 1 -->
<path d="M70.6 721.8 L80 721 L80 779 L70.8 779 Z" fill="#000"/>
<path d="M71 724 L63 733" stroke="#000" stroke-width="2.4"/>
<rect x="58" y="731.5" width="6.5" height="6" fill="#000"/>
<!-- arrow 2 -->
<path d="M229.6 890.5 L234 897 L239.8 906 L234 907.5 L231.5 910 L228 910 L225.5 907.5 L218.5 907.5 L224.5 897 Z" fill="#000"/>
<path d="M230 907 L230 938" stroke="#000" stroke-width="2.8" fill="none"/>
<!-- number 2 -->
<path d="M217.5 956 C217 946 222.5 942 229.8 942 C237.5 942 241.5 947 241.5 954 C241.5 962 235 968 219 987 L245 987" stroke="#000" stroke-width="7.5" fill="none" stroke-linejoin="miter"/>
<rect x="213" y="986" width="32.5" height="9" fill="#000"/>
<!-- c marks on rocker -->
<g fill="none" stroke="#000" stroke-width="1.8" stroke-linecap="round">
<path d="M718 679 C714 676 709 680 709 684 C709 688 714 690 719 688"/>
<path d="M244 857 C240 854 236 858 236 862 C236 866 240 867 244 866"/>
<path d="M297 836 C294 833 290 838 288 842 C288 846 292 849 294 852"/>
</g>
<!-- Porsche logo -->
<rect x="626" y="875" width="319" height="37" fill="#f9f9f9"/>
<rect x="625.5" y="827" width="319" height="48" fill="#434343"/>
<g fill="none" stroke="#fff" stroke-width="4" stroke-linecap="butt" stroke-linejoin="round">
  <!-- P -->
  <path transform="translate(633.5,841)" d="M2.2 16 V2 H34 Q35.5 2 35.5 4 V6.5 Q35.5 8.5 34 8.5 H2.2"/>
  <!-- O -->
  <rect x="679" y="843" width="34" height="12" rx="3.5" ry="3.5"/>
  <!-- R -->
  <path transform="translate(719.6,841)" d="M2.2 16 V2 H35 Q38 2 38 4.5 V6.5 Q38 8.5 35 8.5 H2.2 M38 8.5 V16"/>
  <!-- S -->
  <path transform="translate(763.6,841)" d="M39 2 H5 Q2 2 2 5 Q2 8.3 5 8.3 H34 Q37 8.3 37 11 Q37 14 34 14 H0"/>
  <!-- C -->
  <path transform="translate(807.6,841)" d="M40 2 H6 Q2 2 2 6 V10 Q2 14 6 14 H40"/>
  <!-- H -->
  <path transform="translate(852.4,841)" d="M2.4 0 V16 M38.2 0 V16 M2.4 8.2 H38.2"/>
  <!-- E -->
  <path transform="translate(897.6,841)" d="M39.5 2.3 H2 V15 H39.5 M2 8.6 H39.5" stroke-width="3.5"/>
</g>
<g font-family="Liberation Sans, sans-serif" font-weight="bold" font-size="23.3" fill="#393939" stroke="#393939" stroke-width="0.5" text-anchor="middle">
<text transform="translate(645.0,905.2) scale(1.12,1)">G</text>
<text transform="translate(670.5,905.2) scale(0.92,1)">E</text>
<text transform="translate(695.0,905.2) scale(1.20,1)">N</text>
<text transform="translate(723.0,905.2) scale(1.20,1)">U</text>
<text transform="translate(746.3,905.2) scale(1.00,1)">I</text>
<text transform="translate(770.0,905.2) scale(1.30,1)">N</text>
<text transform="translate(797.0,905.2) scale(0.85,1)">E</text>
<text transform="translate(829.0,905.2) scale(1.00,1)">P</text>
<text transform="translate(854.5,905.2) scale(1.20,1)">A</text>
<text transform="translate(882.0,905.2) scale(1.05,1)">R</text>
<text transform="translate(905.5,905.2) scale(1.05,1)">T</text>
<text transform="translate(927.0,905.2) scale(1.12,1)">S</text>
</g>

</svg>
</body></html>
